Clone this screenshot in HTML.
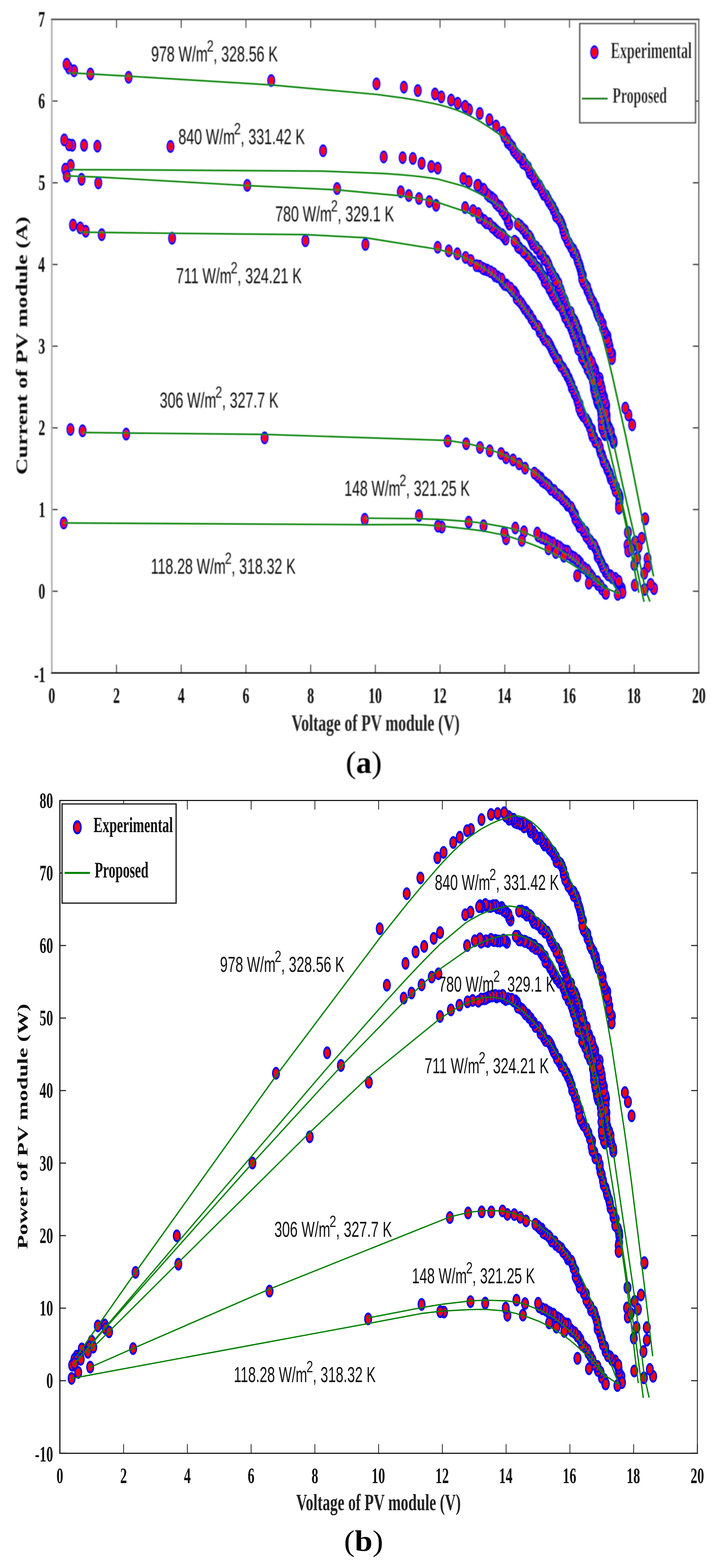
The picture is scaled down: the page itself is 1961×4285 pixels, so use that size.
<!DOCTYPE html>
<html><head><meta charset="utf-8"><title>PV figure</title><style>html,body{margin:0;padding:0;background:#fff;}svg{display:block;}</style></head><body>
<svg width="1961" height="4285" viewBox="0 0 1961 4285">
<rect width="1961" height="4285" fill="#fff"/>
<defs><filter id="bA" x="0" y="0" width="1961" height="2200" filterUnits="userSpaceOnUse"><feGaussianBlur stdDeviation="0.9"/></filter></defs>
<g filter="url(#bA)">
<line x1="141.5" y1="1839" x2="141.5" y2="1816" stroke="#222" stroke-width="2.2"/>
<line x1="141.5" y1="53" x2="141.5" y2="76" stroke="#222" stroke-width="2.2"/>
<line x1="318.2" y1="1839" x2="318.2" y2="1816" stroke="#222" stroke-width="2.2"/>
<line x1="318.2" y1="53" x2="318.2" y2="76" stroke="#222" stroke-width="2.2"/>
<line x1="495.0" y1="1839" x2="495.0" y2="1816" stroke="#222" stroke-width="2.2"/>
<line x1="495.0" y1="53" x2="495.0" y2="76" stroke="#222" stroke-width="2.2"/>
<line x1="671.7" y1="1839" x2="671.7" y2="1816" stroke="#222" stroke-width="2.2"/>
<line x1="671.7" y1="53" x2="671.7" y2="76" stroke="#222" stroke-width="2.2"/>
<line x1="848.5" y1="1839" x2="848.5" y2="1816" stroke="#222" stroke-width="2.2"/>
<line x1="848.5" y1="53" x2="848.5" y2="76" stroke="#222" stroke-width="2.2"/>
<line x1="1025.2" y1="1839" x2="1025.2" y2="1816" stroke="#222" stroke-width="2.2"/>
<line x1="1025.2" y1="53" x2="1025.2" y2="76" stroke="#222" stroke-width="2.2"/>
<line x1="1201.9" y1="1839" x2="1201.9" y2="1816" stroke="#222" stroke-width="2.2"/>
<line x1="1201.9" y1="53" x2="1201.9" y2="76" stroke="#222" stroke-width="2.2"/>
<line x1="1378.7" y1="1839" x2="1378.7" y2="1816" stroke="#222" stroke-width="2.2"/>
<line x1="1378.7" y1="53" x2="1378.7" y2="76" stroke="#222" stroke-width="2.2"/>
<line x1="1555.4" y1="1839" x2="1555.4" y2="1816" stroke="#222" stroke-width="2.2"/>
<line x1="1555.4" y1="53" x2="1555.4" y2="76" stroke="#222" stroke-width="2.2"/>
<line x1="1732.2" y1="1839" x2="1732.2" y2="1816" stroke="#222" stroke-width="2.2"/>
<line x1="1732.2" y1="53" x2="1732.2" y2="76" stroke="#222" stroke-width="2.2"/>
<line x1="1908.9" y1="1839" x2="1908.9" y2="1816" stroke="#222" stroke-width="2.2"/>
<line x1="1908.9" y1="53" x2="1908.9" y2="76" stroke="#222" stroke-width="2.2"/>
<line x1="141.5" y1="1839.0" x2="157.5" y2="1839.0" stroke="#222" stroke-width="3"/>
<line x1="1908.5" y1="1839.0" x2="1892.5" y2="1839.0" stroke="#222" stroke-width="3"/>
<line x1="141.5" y1="1615.8" x2="157.5" y2="1615.8" stroke="#222" stroke-width="3"/>
<line x1="1908.5" y1="1615.8" x2="1892.5" y2="1615.8" stroke="#222" stroke-width="3"/>
<line x1="141.5" y1="1392.5" x2="157.5" y2="1392.5" stroke="#222" stroke-width="3"/>
<line x1="1908.5" y1="1392.5" x2="1892.5" y2="1392.5" stroke="#222" stroke-width="3"/>
<line x1="141.5" y1="1169.2" x2="157.5" y2="1169.2" stroke="#222" stroke-width="3"/>
<line x1="1908.5" y1="1169.2" x2="1892.5" y2="1169.2" stroke="#222" stroke-width="3"/>
<line x1="141.5" y1="946.0" x2="157.5" y2="946.0" stroke="#222" stroke-width="3"/>
<line x1="1908.5" y1="946.0" x2="1892.5" y2="946.0" stroke="#222" stroke-width="3"/>
<line x1="141.5" y1="722.8" x2="157.5" y2="722.8" stroke="#222" stroke-width="3"/>
<line x1="1908.5" y1="722.8" x2="1892.5" y2="722.8" stroke="#222" stroke-width="3"/>
<line x1="141.5" y1="499.5" x2="157.5" y2="499.5" stroke="#222" stroke-width="3"/>
<line x1="1908.5" y1="499.5" x2="1892.5" y2="499.5" stroke="#222" stroke-width="3"/>
<line x1="141.5" y1="276.2" x2="157.5" y2="276.2" stroke="#222" stroke-width="3"/>
<line x1="1908.5" y1="276.2" x2="1892.5" y2="276.2" stroke="#222" stroke-width="3"/>
<line x1="141.5" y1="53.0" x2="157.5" y2="53.0" stroke="#222" stroke-width="3"/>
<line x1="1908.5" y1="53.0" x2="1892.5" y2="53.0" stroke="#222" stroke-width="3"/>
<line x1="141.5" y1="53" x2="141.5" y2="1839" stroke="#a8a8a8" stroke-width="4"/>
<line x1="139.5" y1="53" x2="1910.5" y2="53" stroke="#444" stroke-width="4"/>
<line x1="1908.5" y1="53" x2="1908.5" y2="1839" stroke="#555" stroke-width="3"/>
<line x1="139.5" y1="1839" x2="1910.5" y2="1839" stroke="#111" stroke-width="4"/>
<text transform="translate(132.25,1921.00) scale(0.6096,1)" font-family='"Liberation Serif", serif' font-weight="bold" font-size="60.70" fill="#111">0</text>
<text transform="translate(308.99,1921.00) scale(0.6096,1)" font-family='"Liberation Serif", serif' font-weight="bold" font-size="60.70" fill="#111">2</text>
<text transform="translate(485.82,1921.00) scale(0.6096,1)" font-family='"Liberation Serif", serif' font-weight="bold" font-size="60.70" fill="#111">4</text>
<text transform="translate(662.38,1921.00) scale(0.6096,1)" font-family='"Liberation Serif", serif' font-weight="bold" font-size="60.70" fill="#111">6</text>
<text transform="translate(839.21,1921.00) scale(0.6096,1)" font-family='"Liberation Serif", serif' font-weight="bold" font-size="60.70" fill="#111">8</text>
<text transform="translate(1005.91,1921.00) scale(0.6096,1)" font-family='"Liberation Serif", serif' font-weight="bold" font-size="60.70" fill="#111">10</text>
<text transform="translate(1182.75,1921.00) scale(0.6096,1)" font-family='"Liberation Serif", serif' font-weight="bold" font-size="60.70" fill="#111">12</text>
<text transform="translate(1359.02,1921.00) scale(0.6096,1)" font-family='"Liberation Serif", serif' font-weight="bold" font-size="60.70" fill="#111">14</text>
<text transform="translate(1536.00,1921.00) scale(0.6096,1)" font-family='"Liberation Serif", serif' font-weight="bold" font-size="60.70" fill="#111">16</text>
<text transform="translate(1712.78,1921.00) scale(0.6096,1)" font-family='"Liberation Serif", serif' font-weight="bold" font-size="60.70" fill="#111">18</text>
<text transform="translate(1890.31,1921.00) scale(0.6096,1)" font-family='"Liberation Serif", serif' font-weight="bold" font-size="60.70" fill="#111">20</text>
<text transform="translate(93.14,1864.03) scale(0.6096,1)" font-family='"Liberation Serif", serif' font-weight="bold" font-size="60.70" fill="#111">-1</text>
<text transform="translate(104.89,1635.93) scale(0.6096,1)" font-family='"Liberation Serif", serif' font-weight="bold" font-size="60.70" fill="#111">0</text>
<text transform="translate(105.44,1412.53) scale(0.6096,1)" font-family='"Liberation Serif", serif' font-weight="bold" font-size="60.70" fill="#111">1</text>
<text transform="translate(105.07,1189.36) scale(0.6096,1)" font-family='"Liberation Serif", serif' font-weight="bold" font-size="60.70" fill="#111">2</text>
<text transform="translate(104.80,966.11) scale(0.6096,1)" font-family='"Liberation Serif", serif' font-weight="bold" font-size="60.70" fill="#111">3</text>
<text transform="translate(104.15,742.71) scale(0.6096,1)" font-family='"Liberation Serif", serif' font-weight="bold" font-size="60.70" fill="#111">4</text>
<text transform="translate(104.89,519.38) scale(0.6096,1)" font-family='"Liberation Serif", serif' font-weight="bold" font-size="60.70" fill="#111">5</text>
<text transform="translate(104.61,296.36) scale(0.6096,1)" font-family='"Liberation Serif", serif' font-weight="bold" font-size="60.70" fill="#111">6</text>
<text transform="translate(104.42,72.88) scale(0.6096,1)" font-family='"Liberation Serif", serif' font-weight="bold" font-size="60.70" fill="#111">7</text>
<g transform="scale(1,1.62)" fill="#ff0000" stroke="#0000ff" stroke-width="3.6">
<circle cx="1762.3" cy="875.5" r="9.00" stroke-width="3.6"/>
<circle cx="1726.5" cy="716.8" r="9.00" stroke-width="3.6"/>
<circle cx="1716.3" cy="700.1" r="9.00" stroke-width="3.6"/>
<circle cx="1707.8" cy="688.5" r="9.00" stroke-width="3.6"/>
<circle cx="1671.9" cy="597.4" r="9.0"/>
<circle cx="1671.2" cy="604.9" r="9.0"/>
<circle cx="1668.6" cy="594.5" r="9.0"/>
<circle cx="1664.6" cy="584.3" r="9.0"/>
<circle cx="1664.2" cy="587.9" r="9.0"/>
<circle cx="1661.7" cy="577.0" r="9.0"/>
<circle cx="1659.0" cy="567.1" r="9.0"/>
<circle cx="1657.9" cy="572.2" r="9.0"/>
<circle cx="1653.2" cy="562.0" r="9.0"/>
<circle cx="1650.7" cy="558.5" r="9.0"/>
<circle cx="1646.7" cy="553.0" r="9.0"/>
<circle cx="1646.2" cy="546.8" r="9.0"/>
<circle cx="1641.7" cy="542.9" r="9.0"/>
<circle cx="1639.3" cy="537.1" r="9.0"/>
<circle cx="1634.8" cy="533.8" r="9.0"/>
<circle cx="1631.3" cy="528.7" r="9.0"/>
<circle cx="1628.9" cy="523.2" r="9.0"/>
<circle cx="1627.1" cy="518.1" r="9.0"/>
<circle cx="1623.3" cy="515.0" r="9.0"/>
<circle cx="1620.8" cy="510.3" r="9.0"/>
<circle cx="1615.4" cy="505.2" r="9.0"/>
<circle cx="1611.9" cy="500.9" r="9.0"/>
<circle cx="1608.2" cy="493.5" r="9.0"/>
<circle cx="1604.2" cy="489.4" r="9.0"/>
<circle cx="1603.7" cy="484.7" r="9.0"/>
<circle cx="1597.8" cy="479.8" r="9.0"/>
<circle cx="1593.5" cy="476.0" r="9.0"/>
<circle cx="1591.6" cy="464.9" r="9.0"/>
<circle cx="1590.0" cy="470.4" r="9.0"/>
<circle cx="1587.9" cy="460.2" r="9.0"/>
<circle cx="1585.7" cy="453.9" r="9.0"/>
<circle cx="1583.4" cy="449.0" r="9.0"/>
<circle cx="1581.3" cy="445.0" r="9.0"/>
<circle cx="1578.2" cy="440.5" r="9.0"/>
<circle cx="1575.9" cy="434.6" r="9.0"/>
<circle cx="1572.4" cy="428.8" r="9.0"/>
<circle cx="1566.1" cy="425.7" r="9.0"/>
<circle cx="1566.0" cy="421.4" r="9.0"/>
<circle cx="1559.8" cy="417.2" r="9.0"/>
<circle cx="1554.2" cy="410.7" r="9.0"/>
<circle cx="1550.8" cy="407.7" r="9.0"/>
<circle cx="1546.3" cy="401.0" r="9.0"/>
<circle cx="1542.7" cy="393.2" r="9.0"/>
<circle cx="1542.4" cy="396.8" r="9.0"/>
<circle cx="1538.5" cy="388.9" r="9.0"/>
<circle cx="1537.0" cy="383.0" r="9.0"/>
<circle cx="1533.2" cy="376.7" r="9.0"/>
<circle cx="1529.7" cy="372.1" r="9.0"/>
<circle cx="1525.0" cy="368.5" r="9.0"/>
<circle cx="1518.3" cy="364.4" r="9.0"/>
<circle cx="1516.6" cy="357.9" r="9.0"/>
<circle cx="1512.1" cy="354.0" r="9.0"/>
<circle cx="1509.3" cy="349.1" r="9.0"/>
<circle cx="1504.2" cy="344.6" r="9.0"/>
<circle cx="1498.8" cy="339.6" r="9.0"/>
<circle cx="1496.1" cy="335.8" r="9.0"/>
<circle cx="1491.8" cy="330.4" r="9.0"/>
<circle cx="1485.1" cy="328.0" r="9.0"/>
<circle cx="1481.8" cy="323.7" r="9.0"/>
<circle cx="1478.0" cy="318.7" r="9.0"/>
<circle cx="1472.9" cy="312.9" r="9.0"/>
<circle cx="1466.1" cy="310.1" r="9.0"/>
<circle cx="1461.1" cy="305.3" r="9.0"/>
<circle cx="1458.9" cy="301.7" r="9.0"/>
<circle cx="1453.2" cy="294.6" r="9.0"/>
<circle cx="1447.2" cy="291.9" r="9.0"/>
<circle cx="1445.1" cy="287.6" r="9.0"/>
<circle cx="1442.5" cy="282.6" r="9.0"/>
<circle cx="1434.8" cy="277.3" r="9.0"/>
<circle cx="1428.6" cy="275.0" r="9.0"/>
<circle cx="1426.9" cy="268.7" r="9.0"/>
<circle cx="1419.0" cy="265.9" r="9.0"/>
<circle cx="1415.5" cy="263.0" r="9.0"/>
<circle cx="1408.2" cy="258.0" r="9.0"/>
<circle cx="1402.7" cy="253.6" r="9.0"/>
<circle cx="1399.5" cy="248.1" r="9.0"/>
<circle cx="1393.3" cy="243.9" r="9.0"/>
<circle cx="1386.6" cy="240.4" r="9.0"/>
<circle cx="1385.8" cy="236.3" r="9.0"/>
<circle cx="1377.9" cy="230.7" r="9.0"/>
<circle cx="1373.4" cy="223.3" r="9.00" stroke-width="3.6"/>
<circle cx="1355.1" cy="212.7" r="9.00" stroke-width="3.6"/>
<circle cx="1336.8" cy="201.9" r="9.00" stroke-width="3.6"/>
<circle cx="1310.3" cy="191.4" r="9.00" stroke-width="3.6"/>
<circle cx="1281.0" cy="185.1" r="9.00" stroke-width="3.6"/>
<circle cx="1270.4" cy="179.3" r="9.00" stroke-width="3.6"/>
<circle cx="1250.0" cy="174.3" r="9.00" stroke-width="3.6"/>
<circle cx="1232.1" cy="168.8" r="9.00" stroke-width="3.6"/>
<circle cx="1205.2" cy="163.5" r="9.00" stroke-width="3.6"/>
<circle cx="1188.1" cy="158.5" r="9.00" stroke-width="3.6"/>
<circle cx="1141.0" cy="152.8" r="9.00" stroke-width="3.6"/>
<circle cx="1103.1" cy="147.0" r="9.00" stroke-width="3.6"/>
<circle cx="1028.2" cy="141.5" r="9.00" stroke-width="3.6"/>
<circle cx="740.7" cy="135.9" r="9.00" stroke-width="3.6"/>
<circle cx="351.2" cy="130.4" r="9.00" stroke-width="3.6"/>
<circle cx="246.9" cy="124.9" r="9.00" stroke-width="3.6"/>
<circle cx="202.3" cy="119.4" r="9.00" stroke-width="3.6"/>
<circle cx="188.3" cy="114.7" r="9.00" stroke-width="3.6"/>
<circle cx="182.0" cy="108.4" r="9.00" stroke-width="3.6"/>
<circle cx="1676.0" cy="746.4" r="9.0"/>
<circle cx="1674.9" cy="742.6" r="9.0"/>
<circle cx="1669.9" cy="736.0" r="9.0"/>
<circle cx="1668.0" cy="731.3" r="9.0"/>
<circle cx="1668.0" cy="727.5" r="9.0"/>
<circle cx="1664.0" cy="722.2" r="9.0"/>
<circle cx="1659.0" cy="716.2" r="9.0"/>
<circle cx="1656.7" cy="710.9" r="9.0"/>
<circle cx="1656.7" cy="700.4" r="9.0"/>
<circle cx="1656.7" cy="706.9" r="9.0"/>
<circle cx="1655.6" cy="684.3" r="9.0"/>
<circle cx="1654.7" cy="691.0" r="9.0"/>
<circle cx="1653.8" cy="680.5" r="9.0"/>
<circle cx="1653.8" cy="696.9" r="9.0"/>
<circle cx="1649.8" cy="670.3" r="9.0"/>
<circle cx="1649.3" cy="674.7" r="9.0"/>
<circle cx="1646.6" cy="665.8" r="9.0"/>
<circle cx="1644.5" cy="660.7" r="9.0"/>
<circle cx="1643.6" cy="655.6" r="9.0"/>
<circle cx="1640.7" cy="649.1" r="9.0"/>
<circle cx="1637.8" cy="638.4" r="9.0"/>
<circle cx="1636.8" cy="643.8" r="9.0"/>
<circle cx="1629.9" cy="635.0" r="9.0"/>
<circle cx="1627.2" cy="631.1" r="9.0"/>
<circle cx="1625.4" cy="623.9" r="9.0"/>
<circle cx="1622.2" cy="620.7" r="9.0"/>
<circle cx="1618.7" cy="616.0" r="9.0"/>
<circle cx="1616.1" cy="610.4" r="9.0"/>
<circle cx="1608.5" cy="601.6" r="9.0"/>
<circle cx="1608.4" cy="604.7" r="9.0"/>
<circle cx="1602.6" cy="596.0" r="9.0"/>
<circle cx="1602.2" cy="591.2" r="9.0"/>
<circle cx="1594.9" cy="587.1" r="9.0"/>
<circle cx="1592.7" cy="580.1" r="9.0"/>
<circle cx="1589.4" cy="572.7" r="9.0"/>
<circle cx="1588.0" cy="576.8" r="9.0"/>
<circle cx="1582.6" cy="566.5" r="9.0"/>
<circle cx="1581.5" cy="561.7" r="9.0"/>
<circle cx="1579.9" cy="556.6" r="9.0"/>
<circle cx="1576.2" cy="552.6" r="9.0"/>
<circle cx="1573.3" cy="546.7" r="9.0"/>
<circle cx="1569.2" cy="541.2" r="9.0"/>
<circle cx="1564.2" cy="537.3" r="9.0"/>
<circle cx="1558.7" cy="531.7" r="9.0"/>
<circle cx="1558.5" cy="527.0" r="9.0"/>
<circle cx="1549.9" cy="524.2" r="9.0"/>
<circle cx="1547.5" cy="517.1" r="9.0"/>
<circle cx="1545.5" cy="514.6" r="9.0"/>
<circle cx="1542.7" cy="507.8" r="9.0"/>
<circle cx="1539.7" cy="504.1" r="9.0"/>
<circle cx="1535.4" cy="499.0" r="9.0"/>
<circle cx="1533.6" cy="494.2" r="9.0"/>
<circle cx="1530.8" cy="488.6" r="9.0"/>
<circle cx="1526.0" cy="484.5" r="9.0"/>
<circle cx="1525.2" cy="478.0" r="9.0"/>
<circle cx="1518.4" cy="470.4" r="9.0"/>
<circle cx="1518.1" cy="474.4" r="9.0"/>
<circle cx="1510.9" cy="464.8" r="9.0"/>
<circle cx="1507.3" cy="459.8" r="9.0"/>
<circle cx="1503.6" cy="456.2" r="9.0"/>
<circle cx="1499.9" cy="450.7" r="9.0"/>
<circle cx="1497.4" cy="445.7" r="9.0"/>
<circle cx="1492.5" cy="439.9" r="9.0"/>
<circle cx="1486.5" cy="437.5" r="9.0"/>
<circle cx="1482.4" cy="431.7" r="9.0"/>
<circle cx="1475.5" cy="428.0" r="9.0"/>
<circle cx="1473.8" cy="423.7" r="9.0"/>
<circle cx="1465.2" cy="418.4" r="9.0"/>
<circle cx="1464.2" cy="416.6" r="9.0"/>
<circle cx="1455.5" cy="411.9" r="9.0"/>
<circle cx="1452.1" cy="407.0" r="9.0"/>
<circle cx="1448.6" cy="401.7" r="9.0"/>
<circle cx="1444.8" cy="398.1" r="9.0"/>
<circle cx="1435.7" cy="393.4" r="9.0"/>
<circle cx="1434.1" cy="389.1" r="9.0"/>
<circle cx="1427.5" cy="385.8" r="9.0"/>
<circle cx="1421.4" cy="381.2" r="9.0"/>
<circle cx="1414.7" cy="378.2" r="9.0"/>
<circle cx="1390.9" cy="378.3" r="9.0"/>
<circle cx="1386.8" cy="373.2" r="9.0"/>
<circle cx="1385.4" cy="368.2" r="9.0"/>
<circle cx="1379.1" cy="362.1" r="9.0"/>
<circle cx="1376.9" cy="359.7" r="9.0"/>
<circle cx="1371.2" cy="355.2" r="9.0"/>
<circle cx="1366.4" cy="348.8" r="9.0"/>
<circle cx="1360.6" cy="346.7" r="9.0"/>
<circle cx="1354.3" cy="342.7" r="9.0"/>
<circle cx="1350.3" cy="337.4" r="9.0"/>
<circle cx="1342.9" cy="333.4" r="9.0"/>
<circle cx="1336.0" cy="330.9" r="9.0"/>
<circle cx="1330.9" cy="327.7" r="9.0"/>
<circle cx="1322.7" cy="321.6" r="9.0"/>
<circle cx="1321.0" cy="319.5" r="9.0"/>
<circle cx="1310.8" cy="316.7" r="9.0"/>
<circle cx="1306.2" cy="312.5" r="9.00" stroke-width="3.6"/>
<circle cx="1303.8" cy="312.6" r="9.0"/>
<circle cx="1279.8" cy="306.2" r="9.00" stroke-width="3.6"/>
<circle cx="1265.5" cy="301.2" r="9.00" stroke-width="3.6"/>
<circle cx="1195.5" cy="283.6" r="9.00" stroke-width="3.6"/>
<circle cx="1178.0" cy="280.9" r="9.00" stroke-width="3.6"/>
<circle cx="1151.5" cy="275.4" r="9.00" stroke-width="3.6"/>
<circle cx="1127.6" cy="267.3" r="9.00" stroke-width="3.6"/>
<circle cx="1099.7" cy="266.0" r="9.00" stroke-width="3.6"/>
<circle cx="1048.0" cy="264.8" r="9.00" stroke-width="3.6"/>
<circle cx="882.4" cy="254.3" r="9.00" stroke-width="3.6"/>
<circle cx="465.7" cy="247.1" r="9.00" stroke-width="3.6"/>
<circle cx="266.0" cy="246.6" r="9.00" stroke-width="3.6"/>
<circle cx="229.6" cy="245.1" r="9.00" stroke-width="3.6"/>
<circle cx="197.3" cy="245.1" r="9.00" stroke-width="3.6"/>
<circle cx="193.0" cy="278.9" r="9.00" stroke-width="3.6"/>
<circle cx="188.3" cy="244.3" r="9.00" stroke-width="3.6"/>
<circle cx="178.2" cy="285.4" r="9.00" stroke-width="3.6"/>
<circle cx="175.6" cy="236.0" r="9.00" stroke-width="3.6"/>
<circle cx="1652.4" cy="733.2" r="9.0"/>
<circle cx="1649.8" cy="730.7" r="9.0"/>
<circle cx="1645.6" cy="714.4" r="9.0"/>
<circle cx="1644.9" cy="723.2" r="9.0"/>
<circle cx="1644.7" cy="702.6" r="9.0"/>
<circle cx="1643.8" cy="718.3" r="9.0"/>
<circle cx="1643.0" cy="708.0" r="9.0"/>
<circle cx="1642.4" cy="698.5" r="9.0"/>
<circle cx="1641.1" cy="691.2" r="9.0"/>
<circle cx="1639.6" cy="685.9" r="9.0"/>
<circle cx="1633.6" cy="681.1" r="9.0"/>
<circle cx="1631.3" cy="677.5" r="9.0"/>
<circle cx="1630.2" cy="674.0" r="9.0"/>
<circle cx="1626.7" cy="667.2" r="9.0"/>
<circle cx="1625.3" cy="663.6" r="9.0"/>
<circle cx="1622.3" cy="656.4" r="9.0"/>
<circle cx="1622.0" cy="650.7" r="9.0"/>
<circle cx="1621.2" cy="645.9" r="9.0"/>
<circle cx="1620.2" cy="634.7" r="9.0"/>
<circle cx="1619.4" cy="642.6" r="9.0"/>
<circle cx="1611.5" cy="630.6" r="9.0"/>
<circle cx="1609.1" cy="625.8" r="9.0"/>
<circle cx="1604.6" cy="622.7" r="9.0"/>
<circle cx="1602.1" cy="615.9" r="9.0"/>
<circle cx="1598.1" cy="613.1" r="9.0"/>
<circle cx="1592.3" cy="606.5" r="9.0"/>
<circle cx="1589.5" cy="603.7" r="9.0"/>
<circle cx="1588.9" cy="596.5" r="9.0"/>
<circle cx="1584.7" cy="592.4" r="9.0"/>
<circle cx="1579.1" cy="589.0" r="9.0"/>
<circle cx="1579.1" cy="583.2" r="9.0"/>
<circle cx="1574.6" cy="579.0" r="9.0"/>
<circle cx="1571.6" cy="571.6" r="9.0"/>
<circle cx="1571.4" cy="566.7" r="9.0"/>
<circle cx="1566.4" cy="564.4" r="9.0"/>
<circle cx="1563.2" cy="558.5" r="9.0"/>
<circle cx="1559.7" cy="552.9" r="9.0"/>
<circle cx="1557.5" cy="547.9" r="9.0"/>
<circle cx="1551.5" cy="544.2" r="9.0"/>
<circle cx="1548.1" cy="538.5" r="9.0"/>
<circle cx="1543.4" cy="535.1" r="9.0"/>
<circle cx="1539.7" cy="527.8" r="9.0"/>
<circle cx="1537.3" cy="524.3" r="9.0"/>
<circle cx="1534.2" cy="519.5" r="9.0"/>
<circle cx="1526.1" cy="514.2" r="9.0"/>
<circle cx="1521.6" cy="509.5" r="9.0"/>
<circle cx="1518.0" cy="506.7" r="9.0"/>
<circle cx="1515.6" cy="502.7" r="9.0"/>
<circle cx="1509.6" cy="497.5" r="9.0"/>
<circle cx="1506.0" cy="492.8" r="9.0"/>
<circle cx="1500.4" cy="486.9" r="9.0"/>
<circle cx="1499.9" cy="484.6" r="9.0"/>
<circle cx="1492.7" cy="478.2" r="9.0"/>
<circle cx="1487.5" cy="474.7" r="9.0"/>
<circle cx="1486.6" cy="468.3" r="9.0"/>
<circle cx="1480.3" cy="463.9" r="9.0"/>
<circle cx="1476.1" cy="459.3" r="9.0"/>
<circle cx="1473.2" cy="454.9" r="9.0"/>
<circle cx="1468.4" cy="451.6" r="9.0"/>
<circle cx="1460.2" cy="447.1" r="9.0"/>
<circle cx="1456.7" cy="441.5" r="9.0"/>
<circle cx="1451.0" cy="440.3" r="9.0"/>
<circle cx="1446.0" cy="434.9" r="9.0"/>
<circle cx="1441.1" cy="431.8" r="9.0"/>
<circle cx="1432.5" cy="426.2" r="9.0"/>
<circle cx="1429.3" cy="424.3" r="9.0"/>
<circle cx="1418.8" cy="418.2" r="9.0"/>
<circle cx="1414.4" cy="416.0" r="9.0"/>
<circle cx="1410.7" cy="409.5" r="9.0"/>
<circle cx="1405.5" cy="406.9" r="9.0"/>
<circle cx="1380.8" cy="403.5" r="9.0"/>
<circle cx="1376.0" cy="399.1" r="9.0"/>
<circle cx="1371.3" cy="395.8" r="9.0"/>
<circle cx="1361.2" cy="392.3" r="9.0"/>
<circle cx="1354.9" cy="388.9" r="9.0"/>
<circle cx="1349.0" cy="385.0" r="9.0"/>
<circle cx="1344.7" cy="383.3" r="9.0"/>
<circle cx="1336.6" cy="377.3" r="9.0"/>
<circle cx="1328.0" cy="375.8" r="9.0"/>
<circle cx="1322.7" cy="372.1" r="9.0"/>
<circle cx="1312.4" cy="367.4" r="9.0"/>
<circle cx="1309.1" cy="366.8" r="9.0"/>
<circle cx="1306.2" cy="360.2" r="9.00" stroke-width="3.6"/>
<circle cx="1292.0" cy="355.2" r="9.00" stroke-width="3.6"/>
<circle cx="1270.4" cy="350.2" r="9.00" stroke-width="3.6"/>
<circle cx="1191.0" cy="346.4" r="9.00" stroke-width="3.6"/>
<circle cx="1172.5" cy="340.1" r="9.00" stroke-width="3.6"/>
<circle cx="1144.5" cy="334.8" r="9.00" stroke-width="3.6"/>
<circle cx="1116.5" cy="329.8" r="9.00" stroke-width="3.6"/>
<circle cx="1094.7" cy="323.5" r="9.00" stroke-width="3.6"/>
<circle cx="920.6" cy="318.1" r="9.00" stroke-width="3.6"/>
<circle cx="675.3" cy="312.8" r="9.00" stroke-width="3.6"/>
<circle cx="268.5" cy="308.5" r="9.00" stroke-width="3.6"/>
<circle cx="222.7" cy="302.5" r="9.00" stroke-width="3.6"/>
<circle cx="182.4" cy="297.2" r="9.00" stroke-width="3.6"/>
<circle cx="1692.4" cy="840.3" r="9.0"/>
<circle cx="1691.9" cy="848.2" r="9.0"/>
<circle cx="1691.5" cy="836.7" r="9.0"/>
<circle cx="1690.8" cy="851.0" r="9.0"/>
<circle cx="1690.7" cy="857.4" r="9.0"/>
<circle cx="1688.4" cy="832.3" r="9.0"/>
<circle cx="1682.4" cy="821.5" r="9.0"/>
<circle cx="1681.2" cy="828.0" r="9.0"/>
<circle cx="1676.4" cy="818.7" r="9.0"/>
<circle cx="1675.2" cy="813.5" r="9.0"/>
<circle cx="1668.2" cy="807.5" r="9.0"/>
<circle cx="1666.2" cy="802.0" r="9.0"/>
<circle cx="1664.0" cy="797.8" r="9.0"/>
<circle cx="1659.2" cy="792.1" r="9.0"/>
<circle cx="1657.8" cy="789.3" r="9.0"/>
<circle cx="1654.4" cy="783.8" r="9.0"/>
<circle cx="1649.3" cy="779.5" r="9.0"/>
<circle cx="1647.3" cy="774.5" r="9.0"/>
<circle cx="1643.8" cy="767.4" r="9.0"/>
<circle cx="1640.3" cy="763.3" r="9.0"/>
<circle cx="1638.0" cy="757.3" r="9.0"/>
<circle cx="1638.0" cy="755.0" r="9.0"/>
<circle cx="1633.7" cy="748.2" r="9.0"/>
<circle cx="1626.2" cy="745.5" r="9.0"/>
<circle cx="1623.2" cy="738.5" r="9.0"/>
<circle cx="1618.1" cy="736.0" r="9.0"/>
<circle cx="1616.8" cy="725.2" r="9.0"/>
<circle cx="1615.7" cy="730.4" r="9.0"/>
<circle cx="1611.0" cy="720.7" r="9.0"/>
<circle cx="1606.8" cy="713.8" r="9.0"/>
<circle cx="1604.2" cy="711.7" r="9.0"/>
<circle cx="1600.8" cy="707.2" r="9.0"/>
<circle cx="1592.8" cy="701.6" r="9.0"/>
<circle cx="1588.6" cy="697.4" r="9.0"/>
<circle cx="1585.4" cy="694.1" r="9.0"/>
<circle cx="1583.0" cy="682.3" r="9.0"/>
<circle cx="1581.9" cy="688.3" r="9.0"/>
<circle cx="1578.8" cy="679.3" r="9.0"/>
<circle cx="1576.5" cy="674.2" r="9.0"/>
<circle cx="1573.1" cy="667.5" r="9.0"/>
<circle cx="1569.3" cy="663.8" r="9.0"/>
<circle cx="1567.5" cy="659.1" r="9.0"/>
<circle cx="1561.7" cy="654.0" r="9.0"/>
<circle cx="1560.5" cy="648.5" r="9.0"/>
<circle cx="1556.8" cy="643.7" r="9.0"/>
<circle cx="1553.7" cy="638.6" r="9.0"/>
<circle cx="1549.4" cy="634.3" r="9.0"/>
<circle cx="1547.1" cy="630.2" r="9.0"/>
<circle cx="1542.9" cy="627.1" r="9.0"/>
<circle cx="1538.5" cy="621.5" r="9.0"/>
<circle cx="1532.2" cy="617.5" r="9.0"/>
<circle cx="1527.0" cy="611.3" r="9.0"/>
<circle cx="1525.5" cy="607.6" r="9.0"/>
<circle cx="1519.5" cy="604.8" r="9.0"/>
<circle cx="1514.1" cy="597.2" r="9.0"/>
<circle cx="1510.5" cy="593.8" r="9.0"/>
<circle cx="1506.8" cy="588.8" r="9.0"/>
<circle cx="1503.4" cy="583.8" r="9.0"/>
<circle cx="1499.6" cy="579.8" r="9.0"/>
<circle cx="1495.4" cy="576.3" r="9.0"/>
<circle cx="1488.0" cy="573.1" r="9.0"/>
<circle cx="1483.4" cy="568.0" r="9.0"/>
<circle cx="1480.6" cy="563.4" r="9.0"/>
<circle cx="1474.0" cy="559.5" r="9.0"/>
<circle cx="1472.7" cy="554.2" r="9.0"/>
<circle cx="1468.8" cy="550.6" r="9.0"/>
<circle cx="1459.9" cy="546.3" r="9.0"/>
<circle cx="1455.8" cy="540.3" r="9.0"/>
<circle cx="1451.3" cy="537.4" r="9.0"/>
<circle cx="1447.3" cy="531.8" r="9.0"/>
<circle cx="1441.8" cy="528.2" r="9.0"/>
<circle cx="1438.9" cy="524.2" r="9.0"/>
<circle cx="1432.7" cy="520.6" r="9.0"/>
<circle cx="1429.0" cy="516.5" r="9.0"/>
<circle cx="1423.8" cy="511.5" r="9.0"/>
<circle cx="1417.6" cy="507.2" r="9.0"/>
<circle cx="1411.0" cy="503.3" r="9.0"/>
<circle cx="1409.1" cy="496.6" r="9.0"/>
<circle cx="1404.5" cy="492.3" r="9.0"/>
<circle cx="1400.0" cy="491.0" r="9.0"/>
<circle cx="1394.2" cy="486.1" r="9.0"/>
<circle cx="1383.7" cy="480.9" r="9.0"/>
<circle cx="1377.3" cy="479.5" r="9.0"/>
<circle cx="1371.8" cy="475.0" r="9.0"/>
<circle cx="1369.6" cy="470.7" r="9.0"/>
<circle cx="1359.3" cy="467.0" r="9.0"/>
<circle cx="1352.4" cy="465.3" r="9.0"/>
<circle cx="1348.6" cy="461.5" r="9.0"/>
<circle cx="1339.9" cy="458.4" r="9.0"/>
<circle cx="1330.7" cy="455.5" r="9.0"/>
<circle cx="1323.2" cy="454.1" r="9.0"/>
<circle cx="1318.8" cy="452.8" r="9.0"/>
<circle cx="1309.7" cy="448.9" r="9.0"/>
<circle cx="1301.6" cy="448.2" r="9.0"/>
<circle cx="1285.9" cy="439.5" r="9.00" stroke-width="3.6"/>
<circle cx="1271.6" cy="434.4" r="9.00" stroke-width="3.6"/>
<circle cx="1249.2" cy="428.1" r="9.00" stroke-width="3.6"/>
<circle cx="1225.6" cy="423.1" r="9.00" stroke-width="3.6"/>
<circle cx="1195.4" cy="417.1" r="9.00" stroke-width="3.6"/>
<circle cx="998.0" cy="412.4" r="9.00" stroke-width="3.6"/>
<circle cx="834.1" cy="406.1" r="9.00" stroke-width="3.6"/>
<circle cx="470.0" cy="401.9" r="9.00" stroke-width="3.6"/>
<circle cx="277.8" cy="395.9" r="9.00" stroke-width="3.6"/>
<circle cx="234.1" cy="390.1" r="9.00" stroke-width="3.6"/>
<circle cx="219.3" cy="384.4" r="9.00" stroke-width="3.6"/>
<circle cx="199.4" cy="379.7" r="9.00" stroke-width="3.6"/>
<circle cx="1698.2" cy="992.7" r="9.0"/>
<circle cx="1692.1" cy="988.9" r="9.0"/>
<circle cx="1690.2" cy="983.9" r="9.0"/>
<circle cx="1685.1" cy="979.1" r="9.0"/>
<circle cx="1680.5" cy="975.7" r="9.0"/>
<circle cx="1672.5" cy="974.7" r="9.0"/>
<circle cx="1667.2" cy="971.0" r="9.0"/>
<circle cx="1660.8" cy="969.7" r="9.0"/>
<circle cx="1654.2" cy="964.7" r="9.0"/>
<circle cx="1653.1" cy="960.0" r="9.0"/>
<circle cx="1647.0" cy="957.0" r="9.0"/>
<circle cx="1643.5" cy="950.9" r="9.0"/>
<circle cx="1640.0" cy="946.3" r="9.0"/>
<circle cx="1635.7" cy="941.3" r="9.0"/>
<circle cx="1632.3" cy="939.0" r="9.0"/>
<circle cx="1632.3" cy="934.2" r="9.0"/>
<circle cx="1629.3" cy="928.6" r="9.0"/>
<circle cx="1624.9" cy="922.9" r="9.0"/>
<circle cx="1622.1" cy="919.2" r="9.0"/>
<circle cx="1614.1" cy="917.0" r="9.0"/>
<circle cx="1612.4" cy="912.7" r="9.0"/>
<circle cx="1606.2" cy="908.3" r="9.0"/>
<circle cx="1601.1" cy="904.7" r="9.0"/>
<circle cx="1599.8" cy="897.8" r="9.0"/>
<circle cx="1594.1" cy="896.2" r="9.0"/>
<circle cx="1589.6" cy="890.8" r="9.0"/>
<circle cx="1582.7" cy="888.5" r="9.0"/>
<circle cx="1578.8" cy="881.8" r="9.0"/>
<circle cx="1575.1" cy="878.6" r="9.0"/>
<circle cx="1571.2" cy="875.1" r="9.0"/>
<circle cx="1570.7" cy="868.5" r="9.0"/>
<circle cx="1565.9" cy="864.9" r="9.0"/>
<circle cx="1562.5" cy="859.6" r="9.0"/>
<circle cx="1559.4" cy="855.9" r="9.0"/>
<circle cx="1550.0" cy="852.3" r="9.0"/>
<circle cx="1549.1" cy="849.5" r="9.0"/>
<circle cx="1543.7" cy="846.2" r="9.0"/>
<circle cx="1536.8" cy="842.3" r="9.0"/>
<circle cx="1531.9" cy="837.8" r="9.0"/>
<circle cx="1524.5" cy="834.7" r="9.0"/>
<circle cx="1516.6" cy="831.1" r="9.0"/>
<circle cx="1513.3" cy="827.4" r="9.0"/>
<circle cx="1504.9" cy="825.4" r="9.0"/>
<circle cx="1500.0" cy="820.5" r="9.0"/>
<circle cx="1496.2" cy="818.1" r="9.0"/>
<circle cx="1488.0" cy="814.3" r="9.0"/>
<circle cx="1481.4" cy="811.7" r="9.0"/>
<circle cx="1477.4" cy="806.6" r="9.0"/>
<circle cx="1472.0" cy="805.0" r="9.0"/>
<circle cx="1467.2" cy="801.9" r="9.0"/>
<circle cx="1459.8" cy="798.1" r="9.0"/>
<circle cx="1434.0" cy="789.8" r="9.00" stroke-width="3.6"/>
<circle cx="1417.7" cy="782.5" r="9.00" stroke-width="3.6"/>
<circle cx="1401.4" cy="776.0" r="9.00" stroke-width="3.6"/>
<circle cx="1382.1" cy="772.3" r="9.00" stroke-width="3.6"/>
<circle cx="1368.7" cy="765.1" r="9.00" stroke-width="3.6"/>
<circle cx="1337.6" cy="760.5" r="9.00" stroke-width="3.6"/>
<circle cx="1310.9" cy="754.9" r="9.00" stroke-width="3.6"/>
<circle cx="1273.2" cy="748.6" r="9.00" stroke-width="3.6"/>
<circle cx="1222.6" cy="744.0" r="9.00" stroke-width="3.6"/>
<circle cx="722.7" cy="738.6" r="9.00" stroke-width="3.6"/>
<circle cx="344.6" cy="732.3" r="9.00" stroke-width="3.6"/>
<circle cx="225.5" cy="726.7" r="9.00" stroke-width="3.6"/>
<circle cx="192.4" cy="724.5" r="9.00" stroke-width="3.6"/>
<circle cx="1699.9" cy="999.5" r="9.00" stroke-width="3.6"/>
<circle cx="1689.7" cy="980.6" r="9.00" stroke-width="3.6"/>
<circle cx="1687.2" cy="1002.7" r="9.00" stroke-width="3.6"/>
<circle cx="1653.4" cy="1000.8" r="9.0"/>
<circle cx="1650.7" cy="996.2" r="9.0"/>
<circle cx="1644.2" cy="993.8" r="9.0"/>
<circle cx="1640.3" cy="987.9" r="9.0"/>
<circle cx="1633.2" cy="986.0" r="9.0"/>
<circle cx="1631.8" cy="981.4" r="9.0"/>
<circle cx="1621.6" cy="978.8" r="9.0"/>
<circle cx="1617.9" cy="973.8" r="9.0"/>
<circle cx="1612.5" cy="969.5" r="9.0"/>
<circle cx="1606.6" cy="965.5" r="9.0"/>
<circle cx="1604.7" cy="962.1" r="9.0"/>
<circle cx="1595.9" cy="958.2" r="9.0"/>
<circle cx="1589.9" cy="956.0" r="9.0"/>
<circle cx="1584.8" cy="949.8" r="9.0"/>
<circle cx="1579.0" cy="945.8" r="9.0"/>
<circle cx="1576.5" cy="971.2" r="9.00" stroke-width="3.6"/>
<circle cx="1576.1" cy="945.2" r="9.0"/>
<circle cx="1568.9" cy="940.9" r="9.0"/>
<circle cx="1561.8" cy="938.7" r="9.0"/>
<circle cx="1554.9" cy="935.3" r="9.0"/>
<circle cx="1549.9" cy="930.0" r="9.0"/>
<circle cx="1542.8" cy="929.1" r="9.0"/>
<circle cx="1534.5" cy="926.5" r="9.0"/>
<circle cx="1528.6" cy="923.0" r="9.0"/>
<circle cx="1521.2" cy="920.8" r="9.0"/>
<circle cx="1513.3" cy="919.4" r="9.0"/>
<circle cx="1509.8" cy="915.9" r="9.0"/>
<circle cx="1500.6" cy="913.6" r="9.0"/>
<circle cx="1494.8" cy="911.8" r="9.0"/>
<circle cx="1488.1" cy="909.1" r="9.0"/>
<circle cx="1479.4" cy="907.2" r="9.0"/>
<circle cx="1470.2" cy="904.1" r="9.0"/>
<circle cx="1467.5" cy="899.3" r="9.0"/>
<circle cx="1431.1" cy="897.0" r="9.00" stroke-width="3.6"/>
<circle cx="1425.1" cy="911.7" r="9.00" stroke-width="3.6"/>
<circle cx="1407.3" cy="890.6" r="9.00" stroke-width="3.6"/>
<circle cx="1382.1" cy="908.9" r="9.00" stroke-width="3.6"/>
<circle cx="1377.6" cy="898.8" r="9.00" stroke-width="3.6"/>
<circle cx="1320.7" cy="886.9" r="9.00" stroke-width="3.6"/>
<circle cx="1280.0" cy="880.9" r="9.00" stroke-width="3.6"/>
<circle cx="1206.4" cy="889.1" r="9.00" stroke-width="3.6"/>
<circle cx="1196.2" cy="887.6" r="9.00" stroke-width="3.6"/>
<circle cx="1144.3" cy="869.7" r="9.00" stroke-width="3.6"/>
<circle cx="996.2" cy="876.0" r="9.00" stroke-width="3.6"/>
<circle cx="1655.0" cy="1001.0" r="9.00" stroke-width="3.6"/>
<circle cx="1608.3" cy="983.8" r="9.00" stroke-width="3.6"/>
<circle cx="1576.5" cy="971.2" r="9.00" stroke-width="3.6"/>
<circle cx="1540.0" cy="938.3" r="9.00" stroke-width="3.6"/>
<circle cx="1518.0" cy="932.1" r="9.00" stroke-width="3.6"/>
<circle cx="1498.0" cy="925.9" r="9.00" stroke-width="3.6"/>
<circle cx="174.1" cy="882.2" r="9.00" stroke-width="3.6"/>
<circle cx="1761.7" cy="875.1" r="9.00" stroke-width="3.6"/>
<circle cx="1715.0" cy="898.0" r="9.00" stroke-width="3.6"/>
<circle cx="1714.0" cy="919.6" r="9.00" stroke-width="3.6"/>
<circle cx="1735.0" cy="913.9" r="9.00" stroke-width="3.6"/>
<circle cx="1752.4" cy="908.0" r="9.00" stroke-width="3.6"/>
<circle cx="1716.0" cy="929.6" r="9.00" stroke-width="3.6"/>
<circle cx="1744.0" cy="922.5" r="9.00" stroke-width="3.6"/>
<circle cx="1768.7" cy="942.6" r="9.00" stroke-width="3.6"/>
<circle cx="1768.7" cy="955.6" r="9.00" stroke-width="3.6"/>
<circle cx="1732.6" cy="952.5" r="9.00" stroke-width="3.6"/>
<circle cx="1759.4" cy="967.1" r="9.00" stroke-width="3.6"/>
<circle cx="1733.8" cy="987.2" r="9.00" stroke-width="3.6"/>
<circle cx="1760.6" cy="994.4" r="9.00" stroke-width="3.6"/>
<circle cx="1786.2" cy="993.0" r="9.00" stroke-width="3.6"/>
<circle cx="1777.0" cy="985.8" r="9.00" stroke-width="3.6"/>
<circle cx="1724.0" cy="925.9" r="9.00" stroke-width="3.6"/>
<circle cx="1740.0" cy="941.4" r="9.00" stroke-width="3.6"/>
</g>
<polyline points="188.3,198.8 202.3,199.6 246.9,202.1 351.2,208.2 740.7,232.1 1028.2,258.0 1103.1,268.1 1141.0,274.5 1188.1,283.7 1205.2,287.8 1232.1,295.4 1250.0,301.7 1270.4,310.3 1281.0,315.4 1310.3,331.5 1336.8,348.3 1355.1,360.9 1373.4,374.3 1377.9,377.7 1385.8,383.8 1386.6,384.4 1393.3,389.6 1399.5,394.6 1402.7,397.5 1408.2,402.8 1415.5,410.4 1419.0,414.3 1426.9,423.6 1428.6,425.7 1434.8,433.7 1442.5,444.1 1445.1,447.7 1447.2,450.6 1453.2,459.3 1458.9,467.8 1461.1,471.2 1466.1,479.0 1472.9,489.7 1478.0,497.9 1481.8,504.1 1485.1,509.5 1491.8,521.2 1496.1,529.1 1498.8,534.0 1504.2,544.2 1509.3,554.1 1512.1,559.6 1516.6,568.6 1518.3,572.0 1525.0,585.6 1529.7,595.2 1533.2,602.4 1537.0,610.6 1538.5,613.8 1542.4,622.1 1542.7,622.9 1546.3,630.8 1550.8,640.7 1554.2,648.4 1559.8,661.5 1566.0,676.2 1566.1,676.4 1572.4,691.9 1575.9,701.1 1578.2,707.0 1581.3,715.2 1583.4,720.9 1585.7,727.0 1587.9,732.9 1590.0,738.9 1591.6,743.2 1593.5,748.7 1597.8,760.7 1603.7,778.2 1604.2,779.8 1608.2,792.2 1611.9,803.7 1615.4,815.0 1620.8,832.7 1623.3,840.9 1627.1,854.0 1628.9,860.1 1631.3,868.3 1634.8,880.6 1639.3,896.9 1641.7,906.1 1646.2,922.9 1646.7,924.6 1650.7,939.9 1653.2,949.4 1657.9,968.1 1659.0,972.5 1661.7,983.3 1664.2,993.5 1664.6,995.2 1668.6,1011.4 1671.2,1022.4 1671.9,1025.2 1707.8,1186.5 1716.3,1227.2 1726.5,1277.2 1762.3,1458.5 1785.0,1575.2" fill="none" stroke="#008000" stroke-width="4.2" stroke-linejoin="round"/>
<polyline points="188.3,463.7 193.0,463.7 197.3,463.7 229.6,463.8 266.0,463.9 465.7,464.8 882.4,467.7 1048.0,474.1 1099.7,477.8 1127.6,480.5 1151.5,483.2 1178.0,486.7 1195.5,489.3 1265.5,508.5 1279.8,514.5 1303.8,526.2 1306.2,527.5 1310.8,529.9 1321.0,535.7 1322.7,536.7 1330.9,541.5 1336.0,544.6 1342.9,549.0 1350.3,553.7 1354.3,556.4 1360.6,560.6 1366.4,564.6 1371.2,567.9 1376.9,571.9 1379.1,573.5 1385.4,578.1 1386.8,579.2 1390.9,582.5 1414.7,604.7 1421.4,611.7 1427.5,618.3 1434.1,625.7 1435.7,627.5 1444.8,638.0 1448.6,642.8 1452.1,647.2 1455.5,651.6 1464.2,663.4 1465.2,664.8 1473.8,677.1 1475.5,679.7 1482.4,690.0 1486.5,696.3 1492.5,706.0 1497.4,714.3 1499.9,718.7 1503.6,725.2 1507.3,731.9 1510.9,738.6 1518.1,752.4 1518.4,752.9 1525.2,766.3 1526.0,768.0 1530.8,778.1 1533.6,784.0 1535.4,787.9 1539.7,797.5 1542.7,804.1 1545.5,810.6 1547.5,815.2 1549.9,820.7 1558.5,841.6 1558.7,842.2 1564.2,856.1 1569.2,869.0 1573.3,880.0 1576.2,888.0 1579.9,898.1 1581.5,902.8 1582.6,905.8 1588.0,921.5 1589.4,925.5 1592.7,935.4 1594.9,942.1 1602.2,964.9 1602.6,966.3 1608.4,985.3 1608.5,985.8 1616.1,1011.9 1618.7,1021.2 1622.2,1034.0 1625.4,1045.7 1627.2,1052.4 1629.9,1062.0 1636.8,1084.5 1637.8,1087.7 1640.7,1096.5 1643.6,1105.6 1644.5,1108.5 1646.6,1115.0 1649.3,1123.5 1649.8,1125.1 1653.8,1138.0 1653.8,1138.1 1654.7,1140.9 1655.6,1143.8 1656.7,1147.1 1656.7,1147.2 1656.7,1147.3 1659.0,1154.4 1664.0,1170.8 1668.0,1183.9 1668.0,1184.0 1669.9,1190.5 1674.9,1208.6 1676.0,1212.7 1677.0,1216.6 1700.0,1322.5 1715.0,1387.2 1735.0,1474.6 1745.0,1524.7 1762.0,1608.7 1775.0,1643.9" fill="none" stroke="#008000" stroke-width="4.2" stroke-linejoin="round"/>
<polyline points="180.3,480.6 182.4,480.7 222.7,482.1 268.5,483.8 675.3,507.1 920.6,518.9 1094.7,535.1 1116.5,538.2 1144.5,542.6 1172.5,547.8 1191.0,551.6 1270.4,578.0 1292.0,587.5 1306.2,594.2 1309.1,595.7 1312.4,597.3 1322.7,602.6 1328.0,605.4 1336.6,610.2 1344.7,614.8 1349.0,617.3 1354.9,620.9 1361.2,624.7 1371.3,631.1 1376.0,634.2 1380.8,637.4 1405.5,656.3 1410.7,661.0 1414.4,664.5 1418.8,668.8 1429.3,679.3 1432.5,682.6 1441.1,691.6 1446.0,697.0 1451.0,702.6 1456.7,709.3 1460.2,713.5 1468.4,723.7 1473.2,730.1 1476.1,734.1 1480.3,739.9 1486.6,749.0 1487.5,750.3 1492.7,758.3 1499.9,770.3 1500.4,771.2 1506.0,781.2 1509.6,787.8 1515.6,799.1 1518.0,803.6 1521.6,810.7 1526.1,820.1 1534.2,837.9 1537.3,844.7 1539.7,850.1 1543.4,858.5 1548.1,869.2 1551.5,877.3 1557.5,891.3 1559.7,896.5 1563.2,904.9 1566.4,912.6 1571.4,925.0 1571.6,925.6 1574.6,933.0 1579.1,944.4 1579.1,944.4 1584.7,958.8 1588.9,969.7 1589.5,971.1 1592.3,978.4 1598.1,993.8 1602.1,1004.5 1604.6,1011.4 1609.1,1024.0 1611.5,1030.9 1619.4,1053.9 1620.2,1056.4 1621.2,1059.5 1622.0,1062.1 1622.3,1063.1 1625.3,1073.3 1626.7,1078.5 1630.2,1091.1 1631.3,1095.4 1633.6,1103.9 1639.6,1127.5 1641.1,1133.2 1642.4,1138.5 1643.0,1140.8 1643.8,1144.2 1644.7,1147.9 1644.9,1148.7 1645.6,1151.1 1649.8,1167.9 1652.4,1178.5 1690.0,1336.1 1710.0,1422.4 1725.0,1488.6 1740.0,1556.4 1759.0,1644.7" fill="none" stroke="#008000" stroke-width="4.2" stroke-linejoin="round"/>
<polyline points="219.3,634.4 234.1,634.6 277.8,635.2 470.0,637.5 834.1,641.2 998.0,649.6 1195.4,681.3 1225.6,689.4 1249.2,697.0 1271.6,705.8 1285.9,712.4 1301.6,720.5 1309.7,725.0 1318.8,730.4 1323.2,733.2 1330.7,738.4 1339.9,745.3 1348.6,752.2 1352.4,755.3 1359.3,761.3 1369.6,770.7 1371.8,772.8 1377.3,778.3 1383.7,784.9 1394.2,796.2 1400.0,802.7 1404.5,807.8 1409.1,813.2 1411.0,815.5 1417.6,823.5 1423.8,831.4 1429.0,838.0 1432.7,842.8 1438.9,851.0 1441.8,854.9 1447.3,862.2 1451.3,867.8 1455.8,874.0 1459.9,879.8 1468.8,892.7 1472.7,898.4 1474.0,900.3 1480.6,910.1 1483.4,914.2 1488.0,921.3 1495.4,932.5 1499.6,939.0 1503.4,944.9 1506.8,950.3 1510.5,956.2 1514.1,961.9 1519.5,970.7 1525.5,980.6 1527.0,983.0 1532.2,991.8 1538.5,1002.5 1542.9,1010.0 1547.1,1017.4 1549.4,1021.4 1553.7,1029.2 1556.8,1034.8 1560.5,1041.7 1561.7,1044.1 1567.5,1055.2 1569.3,1058.7 1573.1,1066.1 1576.5,1073.0 1578.8,1077.7 1581.9,1084.2 1583.0,1086.6 1585.4,1091.9 1588.6,1099.0 1592.8,1109.0 1600.8,1129.7 1604.2,1139.0 1606.8,1146.1 1611.0,1157.2 1615.7,1170.3 1616.8,1173.2 1618.1,1176.9 1623.2,1190.9 1626.2,1199.0 1633.7,1219.3 1638.0,1230.0 1638.0,1230.1 1640.3,1235.4 1643.8,1243.1 1647.3,1250.5 1649.3,1254.6 1654.4,1264.9 1657.8,1271.8 1659.2,1274.6 1664.0,1284.4 1666.2,1289.1 1668.2,1293.6 1675.2,1310.2 1676.4,1313.3 1681.2,1326.3 1682.4,1329.8 1688.4,1347.9 1690.7,1355.4 1690.8,1355.8 1691.5,1358.3 1691.9,1359.5 1692.4,1361.2 1697.0,1377.7 1709.0,1430.8 1723.0,1504.0 1739.0,1590.1 1745.0,1619.9" fill="none" stroke="#008000" stroke-width="4.2" stroke-linejoin="round"/>
<polyline points="225.5,1181.8 344.6,1183.3 722.7,1187.1 1222.6,1203.7 1273.2,1211.5 1310.9,1220.4 1337.6,1228.7 1368.7,1239.8 1382.1,1245.6 1401.4,1255.1 1417.7,1264.0 1434.0,1273.6 1459.8,1291.0 1467.2,1296.5 1472.0,1300.1 1477.4,1304.3 1481.4,1307.5 1488.0,1312.8 1496.2,1319.8 1500.0,1323.2 1504.9,1327.6 1513.3,1335.4 1516.6,1338.6 1524.5,1346.4 1531.9,1354.1 1536.8,1359.3 1543.7,1366.7 1549.1,1372.7 1550.0,1373.8 1559.4,1384.8 1562.5,1388.7 1565.9,1392.8 1570.7,1399.1 1571.2,1399.7 1575.1,1405.0 1578.8,1410.1 1582.7,1415.6 1589.6,1425.9 1594.1,1433.2 1599.8,1442.7 1601.1,1445.0 1606.2,1454.0 1612.4,1465.5 1614.1,1468.8 1622.1,1484.5 1624.9,1490.1 1629.3,1499.6 1632.3,1506.3 1632.3,1506.3 1635.7,1514.2 1640.0,1524.1 1643.5,1532.0 1647.0,1539.5 1653.1,1552.9 1654.2,1555.2 1660.8,1569.2 1667.2,1581.9 1672.5,1591.5 1680.5,1605.1 1685.1,1612.4 1690.2,1619.9 1692.1,1622.7" fill="none" stroke="#008000" stroke-width="4.2" stroke-linejoin="round"/>
<polyline points="996.2,1416.0 1144.3,1417.5 1196.2,1419.4 1206.4,1419.9 1280.0,1425.2 1320.7,1430.0 1377.6,1440.1 1382.1,1441.0 1407.3,1447.0 1425.1,1452.7 1431.1,1454.8 1467.5,1469.7 1470.2,1470.9 1479.4,1475.1 1488.1,1479.2 1494.8,1482.5 1500.6,1485.6 1509.8,1490.7 1513.3,1492.8 1521.2,1497.5 1528.6,1502.2 1534.5,1506.0 1542.8,1511.5 1549.9,1516.4 1554.9,1519.9 1561.8,1524.8 1568.9,1530.1 1576.1,1535.8 1576.5,1536.1 1579.0,1538.2 1584.8,1543.1 1589.9,1547.5 1595.9,1552.8 1604.7,1560.6 1606.6,1562.3 1612.5,1567.6 1617.9,1572.3 1621.6,1575.5 1631.8,1585.0 1633.2,1586.4 1640.3,1593.7 1644.2,1597.7 1650.7,1604.1 1653.4,1606.5 1687.2,1621.0 1689.7,1621.4" fill="none" stroke="#008000" stroke-width="4.2" stroke-linejoin="round"/>
<polyline points="174.1,1429.1 996.2,1433.8 1144.3,1433.4 1196.2,1436.8 1206.4,1437.7 1280.0,1445.8 1320.7,1451.2 1377.6,1462.5 1382.1,1463.8 1407.3,1471.6 1425.1,1477.4 1431.1,1479.4 1467.5,1493.3 1470.2,1494.5 1479.4,1498.5 1488.1,1502.4 1494.8,1505.6 1498.0,1507.1 1500.6,1508.3 1509.8,1512.8 1513.3,1514.6 1518.0,1516.9 1521.2,1518.6 1528.6,1522.5 1534.5,1525.8 1540.0,1528.9 1542.8,1530.5 1549.9,1534.7 1554.9,1537.7 1561.8,1541.9 1568.9,1546.4 1576.1,1551.1 1576.5,1551.3 1579.0,1553.0 1584.8,1556.8 1589.9,1560.2 1595.9,1564.3 1604.7,1570.6 1606.6,1572.0 1608.3,1573.3 1612.5,1576.4 1617.9,1580.5 1621.6,1583.4 1631.8,1591.5 1633.2,1592.6 1640.3,1598.4 1644.2,1601.6 1650.7,1607.1 1653.4,1609.4 1655.0,1610.7" fill="none" stroke="#008000" stroke-width="4.2" stroke-linejoin="round"/>
<text transform="translate(412.67,168.30) scale(0.6480,1)" font-family='"Liberation Sans", sans-serif' font-weight="normal" font-size="59.60" fill="#111">978 W/m</text>
<text transform="translate(564.97,141.30) scale(0.7430,1)" font-family='"Liberation Sans", sans-serif' font-weight="normal" font-size="44.70" fill="#111">2</text>
<text transform="translate(582.78,168.30) scale(0.6480,1)" font-family='"Liberation Sans", sans-serif' font-weight="normal" font-size="59.60" fill="#111">, 328.56 K</text>
<text transform="translate(487.36,394.10) scale(0.6465,1)" font-family='"Liberation Sans", sans-serif' font-weight="normal" font-size="59.60" fill="#111">840 W/m</text>
<text transform="translate(639.32,367.10) scale(0.7413,1)" font-family='"Liberation Sans", sans-serif' font-weight="normal" font-size="44.70" fill="#111">2</text>
<text transform="translate(657.09,394.10) scale(0.6465,1)" font-family='"Liberation Sans", sans-serif' font-weight="normal" font-size="59.60" fill="#111">, 331.42 K</text>
<text transform="translate(751.77,604.50) scale(0.6476,1)" font-family='"Liberation Sans", sans-serif' font-weight="normal" font-size="59.60" fill="#111">780 W/m</text>
<text transform="translate(903.99,577.50) scale(0.7426,1)" font-family='"Liberation Sans", sans-serif' font-weight="normal" font-size="44.70" fill="#111">2</text>
<text transform="translate(921.79,604.50) scale(0.6476,1)" font-family='"Liberation Sans", sans-serif' font-weight="normal" font-size="59.60" fill="#111">, 329.1 K</text>
<text transform="translate(480.77,773.50) scale(0.6483,1)" font-family='"Liberation Sans", sans-serif' font-weight="normal" font-size="59.60" fill="#111">711 W/m</text>
<text transform="translate(630.36,746.50) scale(0.7434,1)" font-family='"Liberation Sans", sans-serif' font-weight="normal" font-size="44.70" fill="#111">2</text>
<text transform="translate(648.18,773.50) scale(0.6483,1)" font-family='"Liberation Sans", sans-serif' font-weight="normal" font-size="59.60" fill="#111">, 324.21 K</text>
<text transform="translate(436.25,1114.00) scale(0.6470,1)" font-family='"Liberation Sans", sans-serif' font-weight="normal" font-size="59.60" fill="#111">306 W/m</text>
<text transform="translate(588.35,1087.00) scale(0.7420,1)" font-family='"Liberation Sans", sans-serif' font-weight="normal" font-size="44.70" fill="#111">2</text>
<text transform="translate(606.13,1114.00) scale(0.6470,1)" font-family='"Liberation Sans", sans-serif' font-weight="normal" font-size="59.60" fill="#111">, 327.7 K</text>
<text transform="translate(940.43,1355.40) scale(0.6415,1)" font-family='"Liberation Sans", sans-serif' font-weight="normal" font-size="59.60" fill="#111">148 W/m</text>
<text transform="translate(1091.23,1328.40) scale(0.7355,1)" font-family='"Liberation Sans", sans-serif' font-weight="normal" font-size="44.70" fill="#111">2</text>
<text transform="translate(1108.84,1355.40) scale(0.6415,1)" font-family='"Liberation Sans", sans-serif' font-weight="normal" font-size="59.60" fill="#111">, 321.25 K</text>
<text transform="translate(411.92,1568.00) scale(0.6453,1)" font-family='"Liberation Sans", sans-serif' font-weight="normal" font-size="59.60" fill="#111">118.28 W/m</text>
<text transform="translate(614.27,1541.00) scale(0.7399,1)" font-family='"Liberation Sans", sans-serif' font-weight="normal" font-size="44.70" fill="#111">2</text>
<text transform="translate(632.00,1568.00) scale(0.6453,1)" font-family='"Liberation Sans", sans-serif' font-weight="normal" font-size="59.60" fill="#111">, 318.32 K</text>
<rect x="1583.5" y="64.5" width="316" height="271" fill="#fff" stroke="#555" stroke-width="4"/>
<g transform="scale(1,1.62)"><circle cx="1623.4" cy="88.1" r="10" fill="#ff0000" stroke="#0000ff" stroke-width="4"/></g>
<line x1="1589" y1="269.4" x2="1660" y2="269.4" stroke="#008000" stroke-width="5.5"/>
<text transform="translate(1667.93,159.00) scale(0.6029,1)" font-family='"Liberation Serif", serif' font-weight="bold" font-size="63.05" fill="#111">Experimental</text>
<text transform="translate(1673.05,281.00) scale(0.6027,1)" font-family='"Liberation Serif", serif' font-weight="bold" font-size="61.83" fill="#111">Proposed</text>
<text transform="translate(796.18,1997.00) scale(0.6723,1)" font-family='"Liberation Serif", serif' font-weight="bold" font-size="62.75" fill="#222">Voltage of PV module (V)</text>
<text transform="translate(74,1297.5) rotate(-90) scale(1.4270,1)" font-family='"Liberation Serif", serif' font-weight="bold" font-size="44.23" fill="#111">Current of PV module (A)</text>
<text transform="translate(944.20,2111.60) scale(1.0016,1)" font-family='"Liberation Serif", serif' font-weight="bold" font-size="84.68" fill="#000"><tspan font-weight="normal">(</tspan>a<tspan font-weight="normal">)</tspan></text>
</g>
<line x1="163.5" y1="3971.5" x2="163.5" y2="3946.5" stroke="#222" stroke-width="2.2"/>
<line x1="163.5" y1="2187.5" x2="163.5" y2="2212.5" stroke="#222" stroke-width="2.2"/>
<line x1="337.6" y1="3971.5" x2="337.6" y2="3946.5" stroke="#222" stroke-width="2.2"/>
<line x1="337.6" y1="2187.5" x2="337.6" y2="2212.5" stroke="#222" stroke-width="2.2"/>
<line x1="511.7" y1="3971.5" x2="511.7" y2="3946.5" stroke="#222" stroke-width="2.2"/>
<line x1="511.7" y1="2187.5" x2="511.7" y2="2212.5" stroke="#222" stroke-width="2.2"/>
<line x1="685.9" y1="3971.5" x2="685.9" y2="3946.5" stroke="#222" stroke-width="2.2"/>
<line x1="685.9" y1="2187.5" x2="685.9" y2="2212.5" stroke="#222" stroke-width="2.2"/>
<line x1="860.0" y1="3971.5" x2="860.0" y2="3946.5" stroke="#222" stroke-width="2.2"/>
<line x1="860.0" y1="2187.5" x2="860.0" y2="2212.5" stroke="#222" stroke-width="2.2"/>
<line x1="1034.1" y1="3971.5" x2="1034.1" y2="3946.5" stroke="#222" stroke-width="2.2"/>
<line x1="1034.1" y1="2187.5" x2="1034.1" y2="2212.5" stroke="#222" stroke-width="2.2"/>
<line x1="1208.2" y1="3971.5" x2="1208.2" y2="3946.5" stroke="#222" stroke-width="2.2"/>
<line x1="1208.2" y1="2187.5" x2="1208.2" y2="2212.5" stroke="#222" stroke-width="2.2"/>
<line x1="1382.3" y1="3971.5" x2="1382.3" y2="3946.5" stroke="#222" stroke-width="2.2"/>
<line x1="1382.3" y1="2187.5" x2="1382.3" y2="2212.5" stroke="#222" stroke-width="2.2"/>
<line x1="1556.5" y1="3971.5" x2="1556.5" y2="3946.5" stroke="#222" stroke-width="2.2"/>
<line x1="1556.5" y1="2187.5" x2="1556.5" y2="2212.5" stroke="#222" stroke-width="2.2"/>
<line x1="1730.6" y1="3971.5" x2="1730.6" y2="3946.5" stroke="#222" stroke-width="2.2"/>
<line x1="1730.6" y1="2187.5" x2="1730.6" y2="2212.5" stroke="#222" stroke-width="2.2"/>
<line x1="1904.7" y1="3971.5" x2="1904.7" y2="3946.5" stroke="#222" stroke-width="2.2"/>
<line x1="1904.7" y1="2187.5" x2="1904.7" y2="2212.5" stroke="#222" stroke-width="2.2"/>
<line x1="163.5" y1="3971.3" x2="180.5" y2="3971.3" stroke="#222" stroke-width="3"/>
<line x1="1904.7" y1="3971.3" x2="1887.7" y2="3971.3" stroke="#222" stroke-width="3"/>
<line x1="163.5" y1="3773.1" x2="180.5" y2="3773.1" stroke="#222" stroke-width="3"/>
<line x1="1904.7" y1="3773.1" x2="1887.7" y2="3773.1" stroke="#222" stroke-width="3"/>
<line x1="163.5" y1="3574.9" x2="180.5" y2="3574.9" stroke="#222" stroke-width="3"/>
<line x1="1904.7" y1="3574.9" x2="1887.7" y2="3574.9" stroke="#222" stroke-width="3"/>
<line x1="163.5" y1="3376.7" x2="180.5" y2="3376.7" stroke="#222" stroke-width="3"/>
<line x1="1904.7" y1="3376.7" x2="1887.7" y2="3376.7" stroke="#222" stroke-width="3"/>
<line x1="163.5" y1="3178.5" x2="180.5" y2="3178.5" stroke="#222" stroke-width="3"/>
<line x1="1904.7" y1="3178.5" x2="1887.7" y2="3178.5" stroke="#222" stroke-width="3"/>
<line x1="163.5" y1="2980.3" x2="180.5" y2="2980.3" stroke="#222" stroke-width="3"/>
<line x1="1904.7" y1="2980.3" x2="1887.7" y2="2980.3" stroke="#222" stroke-width="3"/>
<line x1="163.5" y1="2782.1" x2="180.5" y2="2782.1" stroke="#222" stroke-width="3"/>
<line x1="1904.7" y1="2782.1" x2="1887.7" y2="2782.1" stroke="#222" stroke-width="3"/>
<line x1="163.5" y1="2583.9" x2="180.5" y2="2583.9" stroke="#222" stroke-width="3"/>
<line x1="1904.7" y1="2583.9" x2="1887.7" y2="2583.9" stroke="#222" stroke-width="3"/>
<line x1="163.5" y1="2385.7" x2="180.5" y2="2385.7" stroke="#222" stroke-width="3"/>
<line x1="1904.7" y1="2385.7" x2="1887.7" y2="2385.7" stroke="#222" stroke-width="3"/>
<line x1="163.5" y1="2187.5" x2="180.5" y2="2187.5" stroke="#222" stroke-width="3"/>
<line x1="1904.7" y1="2187.5" x2="1887.7" y2="2187.5" stroke="#222" stroke-width="3"/>
<line x1="163.5" y1="2187.5" x2="163.5" y2="3971.5" stroke="#111" stroke-width="3.2"/>
<line x1="161.9" y1="2187.5" x2="1906.3" y2="2187.5" stroke="#111" stroke-width="3.2"/>
<line x1="1904.7" y1="2187.5" x2="1904.7" y2="3971.5" stroke="#111" stroke-width="2.2"/>
<line x1="161.9" y1="3971.5" x2="1906.3" y2="3971.5" stroke="#111" stroke-width="3.2"/>
<text transform="translate(154.25,4052.70) scale(0.6096,1)" font-family='"Liberation Serif", serif' font-weight="bold" font-size="60.70" fill="#111">0</text>
<text transform="translate(328.37,4052.70) scale(0.6096,1)" font-family='"Liberation Serif", serif' font-weight="bold" font-size="60.70" fill="#111">2</text>
<text transform="translate(502.58,4052.70) scale(0.6096,1)" font-family='"Liberation Serif", serif' font-weight="bold" font-size="60.70" fill="#111">4</text>
<text transform="translate(676.52,4052.70) scale(0.6096,1)" font-family='"Liberation Serif", serif' font-weight="bold" font-size="60.70" fill="#111">6</text>
<text transform="translate(850.73,4052.70) scale(0.6096,1)" font-family='"Liberation Serif", serif' font-weight="bold" font-size="60.70" fill="#111">8</text>
<text transform="translate(1014.81,4052.70) scale(0.6096,1)" font-family='"Liberation Serif", serif' font-weight="bold" font-size="60.70" fill="#111">10</text>
<text transform="translate(1189.03,4052.70) scale(0.6096,1)" font-family='"Liberation Serif", serif' font-weight="bold" font-size="60.70" fill="#111">12</text>
<text transform="translate(1362.68,4052.70) scale(0.6096,1)" font-family='"Liberation Serif", serif' font-weight="bold" font-size="60.70" fill="#111">14</text>
<text transform="translate(1537.04,4052.70) scale(0.6096,1)" font-family='"Liberation Serif", serif' font-weight="bold" font-size="60.70" fill="#111">16</text>
<text transform="translate(1711.20,4052.70) scale(0.6096,1)" font-family='"Liberation Serif", serif' font-weight="bold" font-size="60.70" fill="#111">18</text>
<text transform="translate(1886.11,4052.70) scale(0.6096,1)" font-family='"Liberation Serif", serif' font-weight="bold" font-size="60.70" fill="#111">20</text>
<text transform="translate(95.59,3993.98) scale(0.6096,1)" font-family='"Liberation Serif", serif' font-weight="bold" font-size="60.70" fill="#111">-10</text>
<text transform="translate(126.39,3793.28) scale(0.6096,1)" font-family='"Liberation Serif", serif' font-weight="bold" font-size="60.70" fill="#111">0</text>
<text transform="translate(107.89,3595.08) scale(0.6096,1)" font-family='"Liberation Serif", serif' font-weight="bold" font-size="60.70" fill="#111">10</text>
<text transform="translate(107.89,3396.88) scale(0.6096,1)" font-family='"Liberation Serif", serif' font-weight="bold" font-size="60.70" fill="#111">20</text>
<text transform="translate(107.89,3198.68) scale(0.6096,1)" font-family='"Liberation Serif", serif' font-weight="bold" font-size="60.70" fill="#111">30</text>
<text transform="translate(107.89,3000.48) scale(0.6096,1)" font-family='"Liberation Serif", serif' font-weight="bold" font-size="60.70" fill="#111">40</text>
<text transform="translate(107.89,2802.28) scale(0.6096,1)" font-family='"Liberation Serif", serif' font-weight="bold" font-size="60.70" fill="#111">50</text>
<text transform="translate(107.89,2604.08) scale(0.6096,1)" font-family='"Liberation Serif", serif' font-weight="bold" font-size="60.70" fill="#111">60</text>
<text transform="translate(107.89,2405.88) scale(0.6096,1)" font-family='"Liberation Serif", serif' font-weight="bold" font-size="60.70" fill="#111">70</text>
<text transform="translate(107.89,2207.68) scale(0.6096,1)" font-family='"Liberation Serif", serif' font-weight="bold" font-size="60.70" fill="#111">80</text>
<g transform="scale(1,1.62)" fill="#ff0000" stroke="#0000ff" stroke-width="3.6">
<circle cx="1760.3" cy="2130.6" r="9.00" stroke-width="3.6"/>
<circle cx="1725.0" cy="1882.3" r="9.00" stroke-width="3.6"/>
<circle cx="1715.0" cy="1858.7" r="9.00" stroke-width="3.6"/>
<circle cx="1706.6" cy="1843.1" r="9.00" stroke-width="3.6"/>
<circle cx="1671.2" cy="1714.2" r="9.0"/>
<circle cx="1670.5" cy="1725.9" r="9.0"/>
<circle cx="1667.9" cy="1711.1" r="9.0"/>
<circle cx="1664.0" cy="1697.1" r="9.0"/>
<circle cx="1663.6" cy="1702.7" r="9.0"/>
<circle cx="1661.2" cy="1687.1" r="9.0"/>
<circle cx="1658.5" cy="1673.1" r="9.0"/>
<circle cx="1657.4" cy="1681.4" r="9.0"/>
<circle cx="1652.8" cy="1667.9" r="9.0"/>
<circle cx="1650.3" cy="1663.6" r="9.0"/>
<circle cx="1646.4" cy="1657.2" r="9.0"/>
<circle cx="1645.9" cy="1648.0" r="9.0"/>
<circle cx="1641.5" cy="1644.0" r="9.0"/>
<circle cx="1639.1" cy="1636.5" r="9.0"/>
<circle cx="1634.6" cy="1633.6" r="9.0"/>
<circle cx="1631.2" cy="1627.7" r="9.0"/>
<circle cx="1628.9" cy="1620.5" r="9.0"/>
<circle cx="1627.1" cy="1613.8" r="9.0"/>
<circle cx="1623.3" cy="1611.0" r="9.0"/>
<circle cx="1620.9" cy="1605.2" r="9.0"/>
<circle cx="1615.6" cy="1600.2" r="9.0"/>
<circle cx="1612.1" cy="1595.7" r="9.0"/>
<circle cx="1608.5" cy="1586.6" r="9.0"/>
<circle cx="1604.5" cy="1582.6" r="9.0"/>
<circle cx="1604.0" cy="1575.9" r="9.0"/>
<circle cx="1598.2" cy="1571.8" r="9.0"/>
<circle cx="1594.0" cy="1568.6" r="9.0"/>
<circle cx="1592.1" cy="1553.3" r="9.0"/>
<circle cx="1590.6" cy="1562.1" r="9.0"/>
<circle cx="1588.4" cy="1548.5" r="9.0"/>
<circle cx="1586.3" cy="1540.5" r="9.0"/>
<circle cx="1584.1" cy="1534.8" r="9.0"/>
<circle cx="1582.0" cy="1530.1" r="9.0"/>
<circle cx="1578.9" cy="1525.3" r="9.0"/>
<circle cx="1576.7" cy="1518.0" r="9.0"/>
<circle cx="1573.1" cy="1511.8" r="9.0"/>
<circle cx="1566.9" cy="1510.8" r="9.0"/>
<circle cx="1566.9" cy="1504.9" r="9.0"/>
<circle cx="1560.8" cy="1502.3" r="9.0"/>
<circle cx="1555.2" cy="1496.5" r="9.0"/>
<circle cx="1551.9" cy="1494.3" r="9.0"/>
<circle cx="1547.5" cy="1487.3" r="9.0"/>
<circle cx="1544.0" cy="1478.6" r="9.0"/>
<circle cx="1543.6" cy="1483.8" r="9.0"/>
<circle cx="1539.8" cy="1475.1" r="9.0"/>
<circle cx="1538.4" cy="1467.7" r="9.0"/>
<circle cx="1534.5" cy="1461.3" r="9.0"/>
<circle cx="1531.1" cy="1457.1" r="9.0"/>
<circle cx="1526.5" cy="1455.0" r="9.0"/>
<circle cx="1519.9" cy="1453.5" r="9.0"/>
<circle cx="1518.2" cy="1445.7" r="9.0"/>
<circle cx="1513.8" cy="1443.2" r="9.0"/>
<circle cx="1511.0" cy="1438.2" r="9.0"/>
<circle cx="1506.0" cy="1435.4" r="9.0"/>
<circle cx="1500.7" cy="1432.1" r="9.0"/>
<circle cx="1498.1" cy="1428.8" r="9.0"/>
<circle cx="1493.8" cy="1424.3" r="9.0"/>
<circle cx="1487.1" cy="1425.5" r="9.0"/>
<circle cx="1484.0" cy="1421.9" r="9.0"/>
<circle cx="1480.2" cy="1417.8" r="9.0"/>
<circle cx="1475.1" cy="1413.6" r="9.0"/>
<circle cx="1468.5" cy="1414.5" r="9.0"/>
<circle cx="1463.5" cy="1411.6" r="9.0"/>
<circle cx="1461.3" cy="1408.4" r="9.0"/>
<circle cx="1455.7" cy="1403.0" r="9.0"/>
<circle cx="1449.8" cy="1403.7" r="9.0"/>
<circle cx="1447.8" cy="1399.4" r="9.0"/>
<circle cx="1445.2" cy="1394.8" r="9.0"/>
<circle cx="1437.6" cy="1393.5" r="9.0"/>
<circle cx="1431.5" cy="1395.0" r="9.0"/>
<circle cx="1429.8" cy="1388.1" r="9.0"/>
<circle cx="1422.1" cy="1390.3" r="9.0"/>
<circle cx="1418.6" cy="1389.1" r="9.0"/>
<circle cx="1411.4" cy="1388.1" r="9.0"/>
<circle cx="1406.0" cy="1386.7" r="9.0"/>
<circle cx="1402.9" cy="1382.1" r="9.0"/>
<circle cx="1396.7" cy="1381.5" r="9.0"/>
<circle cx="1390.2" cy="1382.1" r="9.0"/>
<circle cx="1389.4" cy="1377.6" r="9.0"/>
<circle cx="1381.6" cy="1376.7" r="9.0"/>
<circle cx="1377.1" cy="1371.0" r="9.00" stroke-width="3.6"/>
<circle cx="1359.1" cy="1372.4" r="9.00" stroke-width="3.6"/>
<circle cx="1341.1" cy="1373.9" r="9.00" stroke-width="3.6"/>
<circle cx="1315.0" cy="1382.6" r="9.00" stroke-width="3.6"/>
<circle cx="1286.1" cy="1399.2" r="9.00" stroke-width="3.6"/>
<circle cx="1275.7" cy="1401.3" r="9.00" stroke-width="3.6"/>
<circle cx="1255.6" cy="1412.4" r="9.00" stroke-width="3.6"/>
<circle cx="1237.9" cy="1421.2" r="9.00" stroke-width="3.6"/>
<circle cx="1211.4" cy="1437.9" r="9.00" stroke-width="3.6"/>
<circle cx="1194.6" cy="1447.0" r="9.00" stroke-width="3.6"/>
<circle cx="1148.2" cy="1481.0" r="9.00" stroke-width="3.6"/>
<circle cx="1110.8" cy="1507.5" r="9.00" stroke-width="3.6"/>
<circle cx="1037.1" cy="1566.6" r="9.00" stroke-width="3.6"/>
<circle cx="753.8" cy="1810.5" r="9.00" stroke-width="3.6"/>
<circle cx="370.1" cy="2146.4" r="9.00" stroke-width="3.6"/>
<circle cx="267.3" cy="2236.7" r="9.00" stroke-width="3.6"/>
<circle cx="223.4" cy="2275.4" r="9.00" stroke-width="3.6"/>
<circle cx="209.6" cy="2287.6" r="9.00" stroke-width="3.6"/>
<circle cx="203.4" cy="2292.9" r="9.00" stroke-width="3.6"/>
<circle cx="1675.2" cy="1942.2" r="9.0"/>
<circle cx="1674.2" cy="1936.5" r="9.0"/>
<circle cx="1669.3" cy="1927.8" r="9.0"/>
<circle cx="1667.4" cy="1921.0" r="9.0"/>
<circle cx="1667.4" cy="1915.2" r="9.0"/>
<circle cx="1663.5" cy="1908.2" r="9.0"/>
<circle cx="1658.5" cy="1900.4" r="9.0"/>
<circle cx="1656.3" cy="1893.0" r="9.0"/>
<circle cx="1656.2" cy="1877.0" r="9.0"/>
<circle cx="1656.2" cy="1886.9" r="9.0"/>
<circle cx="1655.2" cy="1852.8" r="9.0"/>
<circle cx="1654.3" cy="1863.3" r="9.0"/>
<circle cx="1653.4" cy="1847.6" r="9.0"/>
<circle cx="1653.4" cy="1872.6" r="9.0"/>
<circle cx="1649.4" cy="1833.5" r="9.0"/>
<circle cx="1649.0" cy="1840.3" r="9.0"/>
<circle cx="1646.3" cy="1827.7" r="9.0"/>
<circle cx="1644.3" cy="1820.7" r="9.0"/>
<circle cx="1643.3" cy="1813.4" r="9.0"/>
<circle cx="1640.4" cy="1804.5" r="9.0"/>
<circle cx="1637.7" cy="1789.4" r="9.0"/>
<circle cx="1636.6" cy="1798.0" r="9.0"/>
<circle cx="1629.8" cy="1787.2" r="9.0"/>
<circle cx="1627.1" cy="1782.4" r="9.0"/>
<circle cx="1625.4" cy="1772.4" r="9.0"/>
<circle cx="1622.3" cy="1768.7" r="9.0"/>
<circle cx="1618.8" cy="1763.1" r="9.0"/>
<circle cx="1616.2" cy="1755.7" r="9.0"/>
<circle cx="1608.8" cy="1745.7" r="9.0"/>
<circle cx="1608.6" cy="1750.4" r="9.0"/>
<circle cx="1603.0" cy="1740.0" r="9.0"/>
<circle cx="1602.5" cy="1733.0" r="9.0"/>
<circle cx="1595.4" cy="1730.0" r="9.0"/>
<circle cx="1593.2" cy="1720.8" r="9.0"/>
<circle cx="1589.9" cy="1711.3" r="9.0"/>
<circle cx="1588.6" cy="1717.9" r="9.0"/>
<circle cx="1583.2" cy="1705.3" r="9.0"/>
<circle cx="1582.2" cy="1698.9" r="9.0"/>
<circle cx="1580.5" cy="1692.2" r="9.0"/>
<circle cx="1576.9" cy="1688.0" r="9.0"/>
<circle cx="1574.1" cy="1680.8" r="9.0"/>
<circle cx="1570.0" cy="1674.7" r="9.0"/>
<circle cx="1565.1" cy="1671.4" r="9.0"/>
<circle cx="1559.7" cy="1666.0" r="9.0"/>
<circle cx="1559.5" cy="1659.5" r="9.0"/>
<circle cx="1551.0" cy="1659.5" r="9.0"/>
<circle cx="1548.7" cy="1650.6" r="9.0"/>
<circle cx="1546.7" cy="1648.1" r="9.0"/>
<circle cx="1543.9" cy="1640.0" r="9.0"/>
<circle cx="1541.0" cy="1636.1" r="9.0"/>
<circle cx="1536.7" cy="1631.2" r="9.0"/>
<circle cx="1534.9" cy="1625.3" r="9.0"/>
<circle cx="1532.2" cy="1618.9" r="9.0"/>
<circle cx="1527.5" cy="1615.7" r="9.0"/>
<circle cx="1526.6" cy="1607.1" r="9.0"/>
<circle cx="1520.0" cy="1600.1" r="9.0"/>
<circle cx="1519.7" cy="1605.8" r="9.0"/>
<circle cx="1512.6" cy="1596.4" r="9.0"/>
<circle cx="1509.0" cy="1591.5" r="9.0"/>
<circle cx="1505.4" cy="1588.6" r="9.0"/>
<circle cx="1501.8" cy="1583.0" r="9.0"/>
<circle cx="1499.3" cy="1577.7" r="9.0"/>
<circle cx="1494.5" cy="1572.4" r="9.0"/>
<circle cx="1488.5" cy="1572.6" r="9.0"/>
<circle cx="1484.5" cy="1567.0" r="9.0"/>
<circle cx="1477.8" cy="1566.0" r="9.0"/>
<circle cx="1476.0" cy="1561.2" r="9.0"/>
<circle cx="1467.6" cy="1559.1" r="9.0"/>
<circle cx="1466.6" cy="1557.3" r="9.0"/>
<circle cx="1458.0" cy="1556.2" r="9.0"/>
<circle cx="1454.7" cy="1551.8" r="9.0"/>
<circle cx="1451.2" cy="1546.8" r="9.0"/>
<circle cx="1447.4" cy="1544.4" r="9.0"/>
<circle cx="1438.5" cy="1543.9" r="9.0"/>
<circle cx="1437.0" cy="1539.2" r="9.0"/>
<circle cx="1430.4" cy="1539.0" r="9.0"/>
<circle cx="1424.4" cy="1536.7" r="9.0"/>
<circle cx="1417.9" cy="1537.0" r="9.0"/>
<circle cx="1394.4" cy="1552.1" r="9.0"/>
<circle cx="1390.4" cy="1548.2" r="9.0"/>
<circle cx="1388.9" cy="1542.9" r="9.0"/>
<circle cx="1382.7" cy="1539.2" r="9.0"/>
<circle cx="1380.6" cy="1537.7" r="9.0"/>
<circle cx="1375.0" cy="1535.7" r="9.0"/>
<circle cx="1370.3" cy="1530.9" r="9.0"/>
<circle cx="1364.6" cy="1532.2" r="9.0"/>
<circle cx="1358.3" cy="1531.4" r="9.0"/>
<circle cx="1354.4" cy="1527.6" r="9.0"/>
<circle cx="1347.1" cy="1527.6" r="9.0"/>
<circle cx="1340.3" cy="1529.2" r="9.0"/>
<circle cx="1335.2" cy="1528.9" r="9.0"/>
<circle cx="1327.2" cy="1527.1" r="9.0"/>
<circle cx="1325.5" cy="1525.8" r="9.0"/>
<circle cx="1315.4" cy="1529.5" r="9.0"/>
<circle cx="1310.9" cy="1527.7" r="9.00" stroke-width="3.6"/>
<circle cx="1308.5" cy="1529.5" r="9.0"/>
<circle cx="1284.9" cy="1538.6" r="9.00" stroke-width="3.6"/>
<circle cx="1270.8" cy="1543.0" r="9.00" stroke-width="3.6"/>
<circle cx="1201.9" cy="1573.2" r="9.00" stroke-width="3.6"/>
<circle cx="1184.6" cy="1583.0" r="9.00" stroke-width="3.6"/>
<circle cx="1158.5" cy="1596.5" r="9.00" stroke-width="3.6"/>
<circle cx="1135.0" cy="1605.8" r="9.00" stroke-width="3.6"/>
<circle cx="1107.5" cy="1625.1" r="9.00" stroke-width="3.6"/>
<circle cx="1056.6" cy="1661.9" r="9.00" stroke-width="3.6"/>
<circle cx="893.4" cy="1776.0" r="9.00" stroke-width="3.6"/>
<circle cx="482.9" cy="2084.7" r="9.00" stroke-width="3.6"/>
<circle cx="286.2" cy="2235.2" r="9.00" stroke-width="3.6"/>
<circle cx="250.3" cy="2262.5" r="9.00" stroke-width="3.6"/>
<circle cx="218.5" cy="2286.9" r="9.00" stroke-width="3.6"/>
<circle cx="214.2" cy="2291.9" r="9.00" stroke-width="3.6"/>
<circle cx="209.6" cy="2293.7" r="9.00" stroke-width="3.6"/>
<circle cx="199.7" cy="2302.8" r="9.00" stroke-width="3.6"/>
<circle cx="197.1" cy="2303.0" r="9.00" stroke-width="3.6"/>
<circle cx="1652.0" cy="1928.1" r="9.0"/>
<circle cx="1649.4" cy="1924.9" r="9.0"/>
<circle cx="1645.3" cy="1901.5" r="9.0"/>
<circle cx="1644.7" cy="1915.0" r="9.0"/>
<circle cx="1644.5" cy="1884.0" r="9.0"/>
<circle cx="1643.6" cy="1907.8" r="9.0"/>
<circle cx="1642.7" cy="1892.5" r="9.0"/>
<circle cx="1642.1" cy="1878.4" r="9.0"/>
<circle cx="1640.8" cy="1867.8" r="9.0"/>
<circle cx="1639.4" cy="1860.3" r="9.0"/>
<circle cx="1633.4" cy="1855.1" r="9.0"/>
<circle cx="1631.2" cy="1850.3" r="9.0"/>
<circle cx="1630.1" cy="1845.4" r="9.0"/>
<circle cx="1626.7" cy="1836.4" r="9.0"/>
<circle cx="1625.3" cy="1831.5" r="9.0"/>
<circle cx="1622.4" cy="1821.9" r="9.0"/>
<circle cx="1622.1" cy="1813.5" r="9.0"/>
<circle cx="1621.3" cy="1806.6" r="9.0"/>
<circle cx="1620.3" cy="1790.2" r="9.0"/>
<circle cx="1619.5" cy="1802.3" r="9.0"/>
<circle cx="1611.7" cy="1787.4" r="9.0"/>
<circle cx="1609.4" cy="1781.2" r="9.0"/>
<circle cx="1604.9" cy="1778.3" r="9.0"/>
<circle cx="1602.4" cy="1769.4" r="9.0"/>
<circle cx="1598.5" cy="1766.8" r="9.0"/>
<circle cx="1592.8" cy="1759.4" r="9.0"/>
<circle cx="1590.0" cy="1756.4" r="9.0"/>
<circle cx="1589.5" cy="1746.1" r="9.0"/>
<circle cx="1585.3" cy="1741.9" r="9.0"/>
<circle cx="1579.8" cy="1739.3" r="9.0"/>
<circle cx="1579.8" cy="1731.0" r="9.0"/>
<circle cx="1575.3" cy="1726.7" r="9.0"/>
<circle cx="1572.4" cy="1717.4" r="9.0"/>
<circle cx="1572.2" cy="1710.4" r="9.0"/>
<circle cx="1567.2" cy="1709.2" r="9.0"/>
<circle cx="1564.1" cy="1702.2" r="9.0"/>
<circle cx="1560.7" cy="1695.8" r="9.0"/>
<circle cx="1558.5" cy="1689.7" r="9.0"/>
<circle cx="1552.6" cy="1687.2" r="9.0"/>
<circle cx="1549.2" cy="1680.6" r="9.0"/>
<circle cx="1544.6" cy="1678.0" r="9.0"/>
<circle cx="1541.0" cy="1669.5" r="9.0"/>
<circle cx="1538.6" cy="1665.7" r="9.0"/>
<circle cx="1535.6" cy="1660.4" r="9.0"/>
<circle cx="1527.6" cy="1656.9" r="9.0"/>
<circle cx="1523.1" cy="1652.6" r="9.0"/>
<circle cx="1519.6" cy="1650.6" r="9.0"/>
<circle cx="1517.3" cy="1646.2" r="9.0"/>
<circle cx="1511.3" cy="1642.0" r="9.0"/>
<circle cx="1507.8" cy="1637.4" r="9.0"/>
<circle cx="1502.2" cy="1632.2" r="9.0"/>
<circle cx="1501.7" cy="1629.3" r="9.0"/>
<circle cx="1494.6" cy="1624.4" r="9.0"/>
<circle cx="1489.6" cy="1622.4" r="9.0"/>
<circle cx="1488.7" cy="1614.1" r="9.0"/>
<circle cx="1482.5" cy="1611.6" r="9.0"/>
<circle cx="1478.3" cy="1607.6" r="9.0"/>
<circle cx="1475.5" cy="1603.4" r="9.0"/>
<circle cx="1470.7" cy="1601.5" r="9.0"/>
<circle cx="1462.7" cy="1600.0" r="9.0"/>
<circle cx="1459.2" cy="1594.6" r="9.0"/>
<circle cx="1453.6" cy="1596.2" r="9.0"/>
<circle cx="1448.7" cy="1591.9" r="9.0"/>
<circle cx="1443.8" cy="1590.7" r="9.0"/>
<circle cx="1435.4" cy="1588.3" r="9.0"/>
<circle cx="1432.2" cy="1587.7" r="9.0"/>
<circle cx="1421.9" cy="1585.8" r="9.0"/>
<circle cx="1417.5" cy="1585.6" r="9.0"/>
<circle cx="1413.9" cy="1579.5" r="9.0"/>
<circle cx="1408.7" cy="1579.3" r="9.0"/>
<circle cx="1384.4" cy="1589.7" r="9.0"/>
<circle cx="1379.7" cy="1587.0" r="9.0"/>
<circle cx="1375.0" cy="1585.8" r="9.0"/>
<circle cx="1365.1" cy="1587.6" r="9.0"/>
<circle cx="1359.0" cy="1587.3" r="9.0"/>
<circle cx="1353.1" cy="1586.2" r="9.0"/>
<circle cx="1348.8" cy="1586.8" r="9.0"/>
<circle cx="1340.9" cy="1584.6" r="9.0"/>
<circle cx="1332.4" cy="1588.2" r="9.0"/>
<circle cx="1327.2" cy="1587.0" r="9.0"/>
<circle cx="1317.1" cy="1588.0" r="9.0"/>
<circle cx="1313.8" cy="1589.4" r="9.0"/>
<circle cx="1310.9" cy="1583.6" r="9.00" stroke-width="3.6"/>
<circle cx="1296.9" cy="1586.9" r="9.00" stroke-width="3.6"/>
<circle cx="1275.7" cy="1595.1" r="9.00" stroke-width="3.6"/>
<circle cx="1197.4" cy="1642.7" r="9.00" stroke-width="3.6"/>
<circle cx="1179.2" cy="1648.3" r="9.00" stroke-width="3.6"/>
<circle cx="1151.6" cy="1661.4" r="9.00" stroke-width="3.6"/>
<circle cx="1124.0" cy="1675.1" r="9.00" stroke-width="3.6"/>
<circle cx="1102.6" cy="1683.7" r="9.00" stroke-width="3.6"/>
<circle cx="931.1" cy="1797.4" r="9.00" stroke-width="3.6"/>
<circle cx="689.4" cy="1961.9" r="9.00" stroke-width="3.6"/>
<circle cx="288.6" cy="2241.2" r="9.00" stroke-width="3.6"/>
<circle cx="243.5" cy="2272.4" r="9.00" stroke-width="3.6"/>
<circle cx="203.8" cy="2300.3" r="9.00" stroke-width="3.6"/>
<circle cx="1691.4" cy="2084.4" r="9.0"/>
<circle cx="1690.9" cy="2096.7" r="9.0"/>
<circle cx="1690.6" cy="2078.8" r="9.0"/>
<circle cx="1689.8" cy="2101.3" r="9.0"/>
<circle cx="1689.7" cy="2111.2" r="9.0"/>
<circle cx="1687.4" cy="2072.6" r="9.0"/>
<circle cx="1681.6" cy="2056.8" r="9.0"/>
<circle cx="1680.4" cy="2067.1" r="9.0"/>
<circle cx="1675.6" cy="2053.5" r="9.0"/>
<circle cx="1674.5" cy="2045.7" r="9.0"/>
<circle cx="1667.6" cy="2037.8" r="9.0"/>
<circle cx="1665.6" cy="2029.9" r="9.0"/>
<circle cx="1663.4" cy="2023.8" r="9.0"/>
<circle cx="1658.7" cy="2016.1" r="9.0"/>
<circle cx="1657.3" cy="2012.1" r="9.0"/>
<circle cx="1654.0" cy="2004.4" r="9.0"/>
<circle cx="1648.9" cy="1999.0" r="9.0"/>
<circle cx="1646.9" cy="1991.9" r="9.0"/>
<circle cx="1643.5" cy="1982.0" r="9.0"/>
<circle cx="1640.1" cy="1976.7" r="9.0"/>
<circle cx="1637.8" cy="1968.1" r="9.0"/>
<circle cx="1637.8" cy="1964.6" r="9.0"/>
<circle cx="1633.6" cy="1955.5" r="9.0"/>
<circle cx="1626.1" cy="1953.3" r="9.0"/>
<circle cx="1623.2" cy="1943.8" r="9.0"/>
<circle cx="1618.2" cy="1941.3" r="9.0"/>
<circle cx="1616.9" cy="1925.6" r="9.0"/>
<circle cx="1615.9" cy="1933.6" r="9.0"/>
<circle cx="1611.2" cy="1920.7" r="9.0"/>
<circle cx="1607.1" cy="1911.7" r="9.0"/>
<circle cx="1604.5" cy="1909.3" r="9.0"/>
<circle cx="1601.1" cy="1903.7" r="9.0"/>
<circle cx="1593.3" cy="1897.9" r="9.0"/>
<circle cx="1589.2" cy="1893.0" r="9.0"/>
<circle cx="1586.0" cy="1889.1" r="9.0"/>
<circle cx="1583.7" cy="1872.8" r="9.0"/>
<circle cx="1582.5" cy="1881.8" r="9.0"/>
<circle cx="1579.5" cy="1869.8" r="9.0"/>
<circle cx="1577.2" cy="1863.2" r="9.0"/>
<circle cx="1573.9" cy="1854.6" r="9.0"/>
<circle cx="1570.2" cy="1850.6" r="9.0"/>
<circle cx="1568.4" cy="1844.5" r="9.0"/>
<circle cx="1562.7" cy="1839.2" r="9.0"/>
<circle cx="1561.4" cy="1831.8" r="9.0"/>
<circle cx="1557.8" cy="1826.3" r="9.0"/>
<circle cx="1554.7" cy="1820.1" r="9.0"/>
<circle cx="1550.5" cy="1815.5" r="9.0"/>
<circle cx="1548.2" cy="1810.6" r="9.0"/>
<circle cx="1544.1" cy="1807.8" r="9.0"/>
<circle cx="1539.8" cy="1801.6" r="9.0"/>
<circle cx="1533.6" cy="1798.4" r="9.0"/>
<circle cx="1528.4" cy="1791.7" r="9.0"/>
<circle cx="1527.0" cy="1787.2" r="9.0"/>
<circle cx="1521.1" cy="1785.6" r="9.0"/>
<circle cx="1515.7" cy="1777.2" r="9.0"/>
<circle cx="1512.2" cy="1774.0" r="9.0"/>
<circle cx="1508.6" cy="1768.7" r="9.0"/>
<circle cx="1505.2" cy="1763.2" r="9.0"/>
<circle cx="1501.5" cy="1759.3" r="9.0"/>
<circle cx="1497.3" cy="1756.3" r="9.0"/>
<circle cx="1490.1" cy="1755.2" r="9.0"/>
<circle cx="1485.5" cy="1750.3" r="9.0"/>
<circle cx="1482.8" cy="1745.2" r="9.0"/>
<circle cx="1476.3" cy="1742.9" r="9.0"/>
<circle cx="1475.0" cy="1736.4" r="9.0"/>
<circle cx="1471.1" cy="1733.3" r="9.0"/>
<circle cx="1462.3" cy="1731.6" r="9.0"/>
<circle cx="1458.3" cy="1725.5" r="9.0"/>
<circle cx="1453.9" cy="1723.8" r="9.0"/>
<circle cx="1449.9" cy="1718.3" r="9.0"/>
<circle cx="1444.6" cy="1716.1" r="9.0"/>
<circle cx="1441.7" cy="1712.3" r="9.0"/>
<circle cx="1435.5" cy="1710.6" r="9.0"/>
<circle cx="1431.9" cy="1707.1" r="9.0"/>
<circle cx="1426.8" cy="1703.1" r="9.0"/>
<circle cx="1420.7" cy="1700.6" r="9.0"/>
<circle cx="1414.2" cy="1698.9" r="9.0"/>
<circle cx="1412.3" cy="1691.4" r="9.0"/>
<circle cx="1407.7" cy="1688.3" r="9.0"/>
<circle cx="1403.4" cy="1688.8" r="9.0"/>
<circle cx="1397.6" cy="1685.6" r="9.0"/>
<circle cx="1387.3" cy="1684.6" r="9.0"/>
<circle cx="1381.0" cy="1686.1" r="9.0"/>
<circle cx="1375.5" cy="1683.4" r="9.0"/>
<circle cx="1373.4" cy="1679.3" r="9.0"/>
<circle cx="1363.3" cy="1680.1" r="9.0"/>
<circle cx="1356.5" cy="1681.8" r="9.0"/>
<circle cx="1352.7" cy="1679.2" r="9.0"/>
<circle cx="1344.2" cy="1680.2" r="9.0"/>
<circle cx="1335.1" cy="1681.7" r="9.0"/>
<circle cx="1327.7" cy="1684.1" r="9.0"/>
<circle cx="1323.3" cy="1685.0" r="9.0"/>
<circle cx="1314.4" cy="1685.4" r="9.0"/>
<circle cx="1306.4" cy="1689.0" r="9.0"/>
<circle cx="1290.9" cy="1687.7" r="9.00" stroke-width="3.6"/>
<circle cx="1276.8" cy="1690.0" r="9.00" stroke-width="3.6"/>
<circle cx="1254.8" cy="1695.6" r="9.00" stroke-width="3.6"/>
<circle cx="1231.5" cy="1703.7" r="9.00" stroke-width="3.6"/>
<circle cx="1201.8" cy="1714.7" r="9.00" stroke-width="3.6"/>
<circle cx="1007.3" cy="1825.7" r="9.00" stroke-width="3.6"/>
<circle cx="845.8" cy="1917.7" r="9.00" stroke-width="3.6"/>
<circle cx="487.1" cy="2132.6" r="9.00" stroke-width="3.6"/>
<circle cx="297.8" cy="2246.7" r="9.00" stroke-width="3.6"/>
<circle cx="254.7" cy="2272.6" r="9.00" stroke-width="3.6"/>
<circle cx="240.1" cy="2281.2" r="9.00" stroke-width="3.6"/>
<circle cx="220.5" cy="2293.1" r="9.00" stroke-width="3.6"/>
<circle cx="1697.1" cy="2321.8" r="9.0"/>
<circle cx="1691.1" cy="2315.8" r="9.0"/>
<circle cx="1689.2" cy="2308.2" r="9.0"/>
<circle cx="1684.3" cy="2300.7" r="9.0"/>
<circle cx="1679.7" cy="2295.5" r="9.0"/>
<circle cx="1671.8" cy="2294.1" r="9.0"/>
<circle cx="1666.6" cy="2288.7" r="9.0"/>
<circle cx="1660.3" cy="2286.9" r="9.0"/>
<circle cx="1653.8" cy="2279.4" r="9.0"/>
<circle cx="1652.7" cy="2272.4" r="9.0"/>
<circle cx="1646.6" cy="2268.0" r="9.0"/>
<circle cx="1643.2" cy="2258.9" r="9.0"/>
<circle cx="1639.8" cy="2252.2" r="9.0"/>
<circle cx="1635.6" cy="2244.9" r="9.0"/>
<circle cx="1632.2" cy="2241.6" r="9.0"/>
<circle cx="1632.2" cy="2234.5" r="9.0"/>
<circle cx="1629.2" cy="2226.3" r="9.0"/>
<circle cx="1624.9" cy="2218.1" r="9.0"/>
<circle cx="1622.2" cy="2212.8" r="9.0"/>
<circle cx="1614.3" cy="2210.2" r="9.0"/>
<circle cx="1612.6" cy="2204.0" r="9.0"/>
<circle cx="1606.4" cy="2198.0" r="9.0"/>
<circle cx="1601.5" cy="2193.2" r="9.0"/>
<circle cx="1600.2" cy="2183.2" r="9.0"/>
<circle cx="1594.6" cy="2181.4" r="9.0"/>
<circle cx="1590.1" cy="2174.0" r="9.0"/>
<circle cx="1583.3" cy="2171.5" r="9.0"/>
<circle cx="1579.5" cy="2162.2" r="9.0"/>
<circle cx="1575.9" cy="2158.0" r="9.0"/>
<circle cx="1572.0" cy="2153.5" r="9.0"/>
<circle cx="1571.5" cy="2144.0" r="9.0"/>
<circle cx="1566.7" cy="2139.5" r="9.0"/>
<circle cx="1563.5" cy="2132.4" r="9.0"/>
<circle cx="1560.4" cy="2127.5" r="9.0"/>
<circle cx="1551.1" cy="2123.8" r="9.0"/>
<circle cx="1550.2" cy="2119.9" r="9.0"/>
<circle cx="1544.9" cy="2116.1" r="9.0"/>
<circle cx="1538.1" cy="2111.7" r="9.0"/>
<circle cx="1533.3" cy="2106.2" r="9.0"/>
<circle cx="1526.0" cy="2103.1" r="9.0"/>
<circle cx="1518.2" cy="2099.4" r="9.0"/>
<circle cx="1515.0" cy="2094.9" r="9.0"/>
<circle cx="1506.7" cy="2093.5" r="9.0"/>
<circle cx="1501.9" cy="2087.7" r="9.0"/>
<circle cx="1498.1" cy="2085.1" r="9.0"/>
<circle cx="1490.0" cy="2081.4" r="9.0"/>
<circle cx="1483.5" cy="2079.1" r="9.0"/>
<circle cx="1479.6" cy="2073.1" r="9.0"/>
<circle cx="1474.3" cy="2071.9" r="9.0"/>
<circle cx="1469.5" cy="2068.7" r="9.0"/>
<circle cx="1462.3" cy="2065.2" r="9.0"/>
<circle cx="1436.8" cy="2059.5" r="9.00" stroke-width="3.6"/>
<circle cx="1420.8" cy="2053.5" r="9.00" stroke-width="3.6"/>
<circle cx="1404.7" cy="2048.9" r="9.00" stroke-width="3.6"/>
<circle cx="1385.7" cy="2048.6" r="9.00" stroke-width="3.6"/>
<circle cx="1372.5" cy="2042.7" r="9.00" stroke-width="3.6"/>
<circle cx="1341.9" cy="2044.4" r="9.00" stroke-width="3.6"/>
<circle cx="1315.6" cy="2044.3" r="9.00" stroke-width="3.6"/>
<circle cx="1278.4" cy="2046.2" r="9.00" stroke-width="3.6"/>
<circle cx="1228.6" cy="2053.9" r="9.00" stroke-width="3.6"/>
<circle cx="736.1" cy="2178.0" r="9.00" stroke-width="3.6"/>
<circle cx="363.6" cy="2275.0" r="9.00" stroke-width="3.6"/>
<circle cx="246.3" cy="2306.2" r="9.00" stroke-width="3.6"/>
<circle cx="213.6" cy="2315.1" r="9.00" stroke-width="3.6"/>
<circle cx="1698.8" cy="2332.4" r="9.00" stroke-width="3.6"/>
<circle cx="1688.7" cy="2303.0" r="9.00" stroke-width="3.6"/>
<circle cx="1686.3" cy="2337.3" r="9.00" stroke-width="3.6"/>
<circle cx="1653.0" cy="2334.3" r="9.0"/>
<circle cx="1650.4" cy="2327.2" r="9.0"/>
<circle cx="1643.9" cy="2323.7" r="9.0"/>
<circle cx="1640.1" cy="2314.8" r="9.0"/>
<circle cx="1633.1" cy="2312.0" r="9.0"/>
<circle cx="1631.8" cy="2305.1" r="9.0"/>
<circle cx="1621.7" cy="2301.4" r="9.0"/>
<circle cx="1618.0" cy="2294.0" r="9.0"/>
<circle cx="1612.7" cy="2287.9" r="9.0"/>
<circle cx="1606.9" cy="2282.2" r="9.0"/>
<circle cx="1605.0" cy="2277.3" r="9.0"/>
<circle cx="1596.3" cy="2271.9" r="9.0"/>
<circle cx="1590.4" cy="2268.9" r="9.0"/>
<circle cx="1585.4" cy="2260.1" r="9.0"/>
<circle cx="1579.7" cy="2254.6" r="9.0"/>
<circle cx="1577.2" cy="2291.4" r="9.00" stroke-width="3.6"/>
<circle cx="1576.9" cy="2253.9" r="9.0"/>
<circle cx="1569.8" cy="2248.1" r="9.0"/>
<circle cx="1562.7" cy="2245.4" r="9.0"/>
<circle cx="1556.0" cy="2241.0" r="9.0"/>
<circle cx="1551.0" cy="2233.7" r="9.0"/>
<circle cx="1544.0" cy="2233.0" r="9.0"/>
<circle cx="1535.9" cy="2229.8" r="9.0"/>
<circle cx="1530.0" cy="2225.4" r="9.0"/>
<circle cx="1522.8" cy="2222.9" r="9.0"/>
<circle cx="1515.0" cy="2221.6" r="9.0"/>
<circle cx="1511.5" cy="2217.0" r="9.0"/>
<circle cx="1502.4" cy="2214.7" r="9.0"/>
<circle cx="1496.7" cy="2212.8" r="9.0"/>
<circle cx="1490.1" cy="2209.7" r="9.0"/>
<circle cx="1481.6" cy="2207.8" r="9.0"/>
<circle cx="1472.5" cy="2204.6" r="9.0"/>
<circle cx="1469.8" cy="2198.5" r="9.0"/>
<circle cx="1434.0" cy="2199.0" r="9.00" stroke-width="3.6"/>
<circle cx="1428.1" cy="2218.5" r="9.00" stroke-width="3.6"/>
<circle cx="1410.5" cy="2193.2" r="9.00" stroke-width="3.6"/>
<circle cx="1385.7" cy="2218.8" r="9.00" stroke-width="3.6"/>
<circle cx="1381.3" cy="2206.7" r="9.00" stroke-width="3.6"/>
<circle cx="1325.2" cy="2198.2" r="9.00" stroke-width="3.6"/>
<circle cx="1285.1" cy="2195.8" r="9.00" stroke-width="3.6"/>
<circle cx="1212.6" cy="2213.3" r="9.00" stroke-width="3.6"/>
<circle cx="1202.6" cy="2212.7" r="9.00" stroke-width="3.6"/>
<circle cx="1151.4" cy="2200.4" r="9.00" stroke-width="3.6"/>
<circle cx="1005.5" cy="2224.8" r="9.00" stroke-width="3.6"/>
<circle cx="1654.6" cy="2334.6" r="9.00" stroke-width="3.6"/>
<circle cx="1608.6" cy="2309.0" r="9.00" stroke-width="3.6"/>
<circle cx="1577.2" cy="2291.4" r="9.00" stroke-width="3.6"/>
<circle cx="1541.3" cy="2246.0" r="9.00" stroke-width="3.6"/>
<circle cx="1519.6" cy="2238.8" r="9.00" stroke-width="3.6"/>
<circle cx="1499.9" cy="2231.7" r="9.00" stroke-width="3.6"/>
<circle cx="195.6" cy="2325.3" r="9.00" stroke-width="3.6"/>
<circle cx="1759.7" cy="2130.0" r="9.00" stroke-width="3.6"/>
<circle cx="1713.7" cy="2172.0" r="9.00" stroke-width="3.6"/>
<circle cx="1712.7" cy="2206.3" r="9.00" stroke-width="3.6"/>
<circle cx="1733.4" cy="2195.4" r="9.00" stroke-width="3.6"/>
<circle cx="1750.5" cy="2184.5" r="9.00" stroke-width="3.6"/>
<circle cx="1714.7" cy="2221.9" r="9.00" stroke-width="3.6"/>
<circle cx="1742.2" cy="2208.6" r="9.00" stroke-width="3.6"/>
<circle cx="1766.6" cy="2239.5" r="9.00" stroke-width="3.6"/>
<circle cx="1766.6" cy="2260.7" r="9.00" stroke-width="3.6"/>
<circle cx="1731.0" cy="2257.3" r="9.00" stroke-width="3.6"/>
<circle cx="1757.4" cy="2279.9" r="9.00" stroke-width="3.6"/>
<circle cx="1732.2" cy="2312.8" r="9.00" stroke-width="3.6"/>
<circle cx="1758.6" cy="2324.3" r="9.00" stroke-width="3.6"/>
<circle cx="1783.8" cy="2321.8" r="9.00" stroke-width="3.6"/>
<circle cx="1774.8" cy="2310.1" r="9.00" stroke-width="3.6"/>
<circle cx="1722.5" cy="2215.5" r="9.00" stroke-width="3.6"/>
<circle cx="1738.3" cy="2239.1" r="9.00" stroke-width="3.6"/>
</g>
<polyline points="209.6,3706.5 223.4,3686.6 267.3,3623.4 370.1,3476.6 753.8,2940.1 1037.1,2563.6 1110.8,2471.2 1148.2,2426.3 1194.6,2372.6 1211.4,2354.0 1237.9,2326.5 1255.6,2309.7 1275.7,2292.5 1286.1,2284.5 1315.0,2265.1 1341.1,2251.1 1359.1,2243.2 1377.1,2236.7 1381.6,2235.3 1389.4,2233.0 1390.2,2232.8 1396.7,2231.1 1402.9,2229.8 1406.0,2229.5 1411.4,2229.5 1418.6,2230.4 1422.1,2231.1 1429.8,2233.6 1431.5,2234.3 1437.6,2237.2 1445.2,2241.7 1447.8,2243.3 1449.8,2244.8 1455.7,2249.2 1461.3,2253.9 1463.5,2255.8 1468.5,2260.4 1475.1,2266.9 1480.2,2272.2 1484.0,2276.2 1487.1,2279.9 1493.8,2288.3 1498.1,2294.3 1500.7,2298.0 1506.0,2306.1 1511.0,2314.3 1513.8,2318.8 1518.2,2326.5 1519.9,2329.4 1526.5,2341.2 1531.1,2349.8 1534.5,2356.4 1538.4,2363.9 1539.8,2366.9 1543.6,2374.7 1544.0,2375.4 1547.5,2383.0 1551.9,2392.7 1555.2,2400.2 1560.8,2413.4 1566.9,2428.6 1566.9,2428.7 1573.1,2445.1 1576.7,2455.1 1578.9,2461.4 1582.0,2470.4 1584.1,2476.8 1586.3,2483.6 1588.4,2490.3 1590.6,2497.1 1592.1,2502.0 1594.0,2508.3 1598.2,2522.1 1604.0,2542.8 1604.5,2544.7 1608.5,2559.5 1612.1,2573.5 1615.6,2587.4 1620.9,2609.4 1623.3,2619.6 1627.1,2636.1 1628.9,2643.9 1631.2,2654.4 1634.6,2670.3 1639.1,2691.5 1641.5,2703.5 1645.9,2725.7 1646.4,2727.9 1650.3,2748.3 1652.8,2761.2 1657.4,2786.5 1658.5,2792.4 1661.2,2807.2 1663.6,2821.2 1664.0,2823.5 1667.9,2846.0 1670.5,2861.2 1671.2,2865.2 1706.6,3097.7 1715.0,3158.3 1725.0,3233.9 1760.3,3517.0 1782.6,3706.2" fill="none" stroke="#008000" stroke-width="3.6" stroke-linejoin="round"/>
<polyline points="209.6,3718.9 214.2,3713.5 218.5,3708.5 250.3,3671.1 286.2,3629.0 482.9,3398.2 893.4,2918.6 1056.6,2733.4 1107.5,2677.7 1135.0,2648.4 1158.5,2623.9 1184.6,2597.4 1201.9,2580.3 1270.8,2522.8 1284.9,2513.8 1308.5,2500.9 1310.9,2499.7 1315.4,2497.6 1325.5,2493.3 1327.2,2492.6 1335.2,2489.5 1340.3,2487.7 1347.1,2485.5 1354.4,2483.4 1358.3,2482.3 1364.6,2480.8 1370.3,2479.5 1375.0,2478.6 1380.6,2477.6 1382.7,2477.3 1388.9,2476.4 1390.4,2476.3 1394.4,2476.2 1417.9,2479.9 1424.4,2482.1 1430.4,2484.5 1437.0,2487.4 1438.5,2488.1 1447.4,2493.0 1451.2,2495.4 1454.7,2497.8 1458.0,2500.3 1466.6,2507.6 1467.6,2508.5 1476.0,2516.7 1477.8,2518.6 1484.5,2526.1 1488.5,2530.8 1494.5,2538.4 1499.3,2545.2 1501.8,2548.9 1505.4,2554.5 1509.0,2560.4 1512.6,2566.4 1519.7,2579.1 1520.0,2579.5 1526.6,2592.3 1527.5,2594.0 1532.2,2604.0 1534.9,2609.9 1536.7,2613.9 1541.0,2623.7 1543.9,2630.6 1546.7,2637.4 1548.7,2642.3 1551.0,2648.2 1559.5,2671.0 1559.7,2671.7 1565.1,2687.3 1570.0,2702.0 1574.1,2714.8 1576.9,2724.1 1580.5,2736.1 1582.2,2741.6 1583.2,2745.2 1588.6,2764.2 1589.9,2769.1 1593.2,2781.2 1595.4,2789.5 1602.5,2818.0 1603.0,2819.8 1608.6,2844.1 1608.8,2844.7 1616.2,2878.6 1618.8,2890.8 1622.3,2907.7 1625.4,2923.3 1627.1,2932.2 1629.8,2945.1 1636.6,2975.0 1637.7,2979.4 1640.4,2991.1 1643.3,3003.2 1644.3,3007.1 1646.3,3015.9 1649.0,3027.5 1649.4,3029.7 1653.4,3047.2 1653.4,3047.4 1654.3,3051.2 1655.2,3055.2 1656.2,3059.7 1656.2,3059.8 1656.3,3060.0 1658.5,3069.8 1663.5,3092.4 1667.4,3110.8 1667.4,3111.0 1669.3,3120.2 1674.2,3146.0 1675.2,3151.7 1676.2,3157.4 1698.9,3313.9 1713.7,3411.8 1733.4,3547.2 1743.2,3626.5 1760.0,3761.6 1772.8,3819.4" fill="none" stroke="#008000" stroke-width="3.6" stroke-linejoin="round"/>
<polyline points="201.7,3728.9 203.8,3726.5 243.5,3680.6 288.6,3628.7 689.4,3178.5 931.1,2914.6 1102.6,2738.3 1124.0,2717.6 1151.6,2691.8 1179.2,2666.9 1197.4,2651.1 1275.7,2596.1 1296.9,2584.6 1310.9,2577.8 1313.8,2576.5 1317.1,2575.1 1327.2,2570.8 1332.4,2568.8 1340.9,2565.8 1348.8,2563.2 1353.1,2561.9 1359.0,2560.3 1365.1,2558.7 1375.0,2556.6 1379.7,2555.8 1384.4,2555.0 1408.7,2554.8 1413.9,2555.8 1417.5,2556.7 1421.9,2557.9 1432.2,2561.5 1435.4,2562.8 1443.8,2566.6 1448.7,2569.0 1453.6,2571.8 1459.2,2575.4 1462.7,2577.8 1470.7,2584.0 1475.5,2588.2 1478.3,2590.9 1482.5,2595.0 1488.7,2601.8 1489.6,2602.8 1494.6,2609.2 1501.7,2619.3 1502.2,2620.1 1507.8,2629.1 1511.3,2635.1 1517.3,2645.8 1519.6,2650.1 1523.1,2656.9 1527.6,2666.3 1535.6,2684.8 1538.6,2691.8 1541.0,2697.6 1544.6,2706.6 1549.2,2718.2 1552.6,2727.0 1558.5,2742.5 1560.7,2748.3 1564.1,2757.8 1567.2,2766.6 1572.2,2780.9 1572.4,2781.6 1575.3,2790.1 1579.8,2803.5 1579.8,2803.5 1585.3,2820.5 1589.5,2833.6 1590.0,2835.3 1592.8,2844.2 1598.5,2863.0 1602.4,2876.2 1604.9,2884.8 1609.4,2900.6 1611.7,2909.3 1619.5,2938.9 1620.3,2942.1 1621.3,2946.2 1622.1,2949.6 1622.4,2951.0 1625.3,2964.5 1626.7,2971.5 1630.1,2988.5 1631.2,2994.3 1633.4,3005.8 1639.4,3038.3 1640.8,3046.1 1642.1,3053.4 1642.7,3056.7 1643.6,3061.4 1644.5,3066.5 1644.7,3067.6 1645.3,3071.1 1649.4,3094.5 1652.0,3109.4 1689.0,3338.1 1708.7,3468.4 1723.5,3570.9 1738.3,3677.8 1757.0,3820.2" fill="none" stroke="#008000" stroke-width="3.6" stroke-linejoin="round"/>
<polyline points="240.1,3696.4 254.7,3681.8 297.8,3638.8 487.1,3450.2 845.8,3095.0 1007.3,2941.8 1201.8,2783.7 1231.5,2764.2 1254.8,2750.6 1276.8,2740.0 1290.9,2734.5 1306.4,2729.7 1314.4,2727.7 1323.3,2725.9 1327.7,2725.4 1335.1,2724.9 1344.2,2725.0 1352.7,2725.9 1356.5,2726.4 1363.3,2727.6 1373.4,2730.4 1375.5,2731.2 1381.0,2733.4 1387.3,2736.3 1397.6,2741.8 1403.4,2745.2 1407.7,2747.9 1412.3,2751.1 1414.2,2752.5 1420.7,2757.5 1426.8,2762.6 1431.9,2767.1 1435.5,2770.4 1441.7,2776.3 1444.6,2779.2 1449.9,2784.6 1453.9,2788.9 1458.3,2793.7 1462.3,2798.3 1471.1,2808.9 1475.0,2813.7 1476.3,2815.3 1482.8,2823.8 1485.5,2827.4 1490.1,2833.6 1497.3,2843.8 1501.5,2849.8 1505.2,2855.3 1508.6,2860.4 1512.2,2866.0 1515.7,2871.5 1521.1,2880.1 1527.0,2890.0 1528.4,2892.4 1533.6,2901.4 1539.8,2912.4 1544.1,2920.3 1548.2,2928.1 1550.5,2932.5 1554.7,2940.9 1557.8,2947.1 1561.4,2954.7 1562.7,2957.4 1568.4,2970.0 1570.2,2974.0 1573.9,2982.6 1577.2,2990.6 1579.5,2996.2 1582.5,3003.9 1583.7,3006.9 1586.0,3013.2 1589.2,3021.9 1593.3,3034.3 1601.1,3060.6 1604.5,3072.6 1607.1,3081.7 1611.2,3096.2 1615.9,3113.3 1616.9,3117.2 1618.2,3122.0 1623.2,3140.7 1626.1,3151.5 1633.6,3178.7 1637.8,3193.2 1637.8,3193.3 1640.1,3200.5 1643.5,3210.6 1646.9,3220.5 1648.9,3226.0 1654.0,3239.9 1657.3,3249.1 1658.7,3253.0 1663.4,3266.3 1665.6,3272.8 1667.6,3279.0 1674.5,3302.4 1675.6,3306.7 1680.4,3325.4 1681.6,3330.4 1687.4,3356.8 1689.7,3367.9 1689.8,3368.5 1690.6,3372.2 1690.9,3373.9 1691.4,3376.5 1695.9,3401.1 1707.8,3481.9 1721.6,3595.6 1737.3,3731.9 1743.2,3779.7" fill="none" stroke="#008000" stroke-width="3.6" stroke-linejoin="round"/>
<polyline points="246.3,3736.5 363.6,3684.9 736.1,3522.8 1228.6,3325.6 1278.4,3313.5 1315.6,3308.7 1341.9,3308.0 1372.5,3309.6 1385.7,3311.7 1404.7,3316.6 1420.8,3322.1 1436.8,3328.8 1462.3,3343.0 1469.5,3347.9 1474.3,3351.2 1479.6,3355.1 1483.5,3358.1 1490.0,3363.3 1498.1,3370.3 1501.9,3373.8 1506.7,3378.4 1515.0,3386.8 1518.2,3390.2 1526.0,3398.9 1533.3,3407.6 1538.1,3413.6 1544.9,3422.3 1550.2,3429.5 1551.1,3430.7 1560.4,3444.1 1563.5,3448.9 1566.7,3454.1 1571.5,3462.0 1572.0,3462.8 1575.9,3469.6 1579.5,3476.1 1583.3,3483.3 1590.1,3496.9 1594.6,3506.6 1600.2,3519.5 1601.5,3522.6 1606.4,3535.0 1612.6,3551.1 1614.3,3555.7 1622.2,3577.8 1624.9,3585.9 1629.2,3599.4 1632.2,3609.1 1632.2,3609.2 1635.6,3620.6 1639.8,3635.1 1643.2,3646.7 1646.6,3657.8 1652.7,3677.6 1653.8,3681.1 1660.3,3702.0 1666.6,3721.2 1671.8,3735.8 1679.7,3756.7 1684.3,3767.9 1689.2,3779.6 1691.1,3783.9" fill="none" stroke="#008000" stroke-width="3.6" stroke-linejoin="round"/>
<polyline points="1005.5,3601.6 1151.4,3573.4 1202.6,3565.0 1212.6,3563.6 1285.1,3555.1 1325.2,3553.0 1381.3,3554.9 1385.7,3555.3 1410.5,3558.6 1428.1,3562.8 1434.0,3564.6 1469.8,3578.5 1472.5,3579.7 1481.6,3584.0 1490.1,3588.3 1496.7,3591.9 1502.4,3595.3 1511.5,3601.2 1515.0,3603.6 1522.8,3609.2 1530.0,3614.8 1535.9,3619.5 1544.0,3626.4 1551.0,3632.6 1556.0,3637.0 1562.7,3643.3 1569.8,3650.3 1576.9,3657.9 1577.2,3658.3 1579.7,3661.1 1585.4,3667.7 1590.4,3673.7 1596.3,3681.1 1605.0,3692.0 1606.9,3694.4 1612.7,3701.9 1618.0,3708.6 1621.7,3713.2 1631.8,3727.0 1633.1,3729.1 1640.1,3739.9 1643.9,3745.8 1650.4,3755.4 1653.0,3759.1 1686.3,3781.3 1688.7,3781.9" fill="none" stroke="#008000" stroke-width="3.6" stroke-linejoin="round"/>
<polyline points="195.6,3767.0 1005.5,3616.9 1151.4,3589.4 1202.6,3583.5 1212.6,3582.6 1285.1,3578.7 1325.2,3578.1 1381.3,3582.8 1385.7,3583.7 1410.5,3589.7 1428.1,3594.7 1434.0,3596.5 1469.8,3610.0 1472.5,3611.2 1481.6,3615.5 1490.1,3619.8 1496.7,3623.3 1499.9,3625.0 1502.4,3626.4 1511.5,3631.6 1515.0,3633.7 1519.6,3636.5 1522.8,3638.5 1530.0,3643.2 1535.9,3647.2 1541.3,3651.0 1544.0,3653.0 1551.0,3658.4 1556.0,3662.2 1562.7,3667.7 1569.8,3673.7 1576.9,3679.9 1577.2,3680.2 1579.7,3682.4 1585.4,3687.6 1590.4,3692.3 1596.3,3698.0 1605.0,3706.7 1606.9,3708.7 1608.6,3710.5 1612.7,3715.0 1618.0,3720.8 1621.7,3725.0 1631.8,3736.8 1633.1,3738.5 1640.1,3747.0 1643.9,3751.8 1650.4,3760.0 1653.0,3763.4 1654.6,3765.4" fill="none" stroke="#008000" stroke-width="3.6" stroke-linejoin="round"/>
<text transform="translate(1187.49,2431.70) scale(0.6348,1)" font-family='"Liberation Sans", sans-serif' font-weight="normal" font-size="59.60" fill="#111">840 W/m</text>
<text transform="translate(1336.74,2404.70) scale(0.7279,1)" font-family='"Liberation Sans", sans-serif' font-weight="normal" font-size="44.70" fill="#111">2</text>
<text transform="translate(1354.15,2431.70) scale(0.6348,1)" font-family='"Liberation Sans", sans-serif' font-weight="normal" font-size="59.60" fill="#111">, 331.42 K</text>
<text transform="translate(600.80,2656.00) scale(0.6361,1)" font-family='"Liberation Sans", sans-serif' font-weight="normal" font-size="59.60" fill="#111">978 W/m</text>
<text transform="translate(750.35,2629.00) scale(0.7294,1)" font-family='"Liberation Sans", sans-serif' font-weight="normal" font-size="44.70" fill="#111">2</text>
<text transform="translate(767.80,2656.00) scale(0.6361,1)" font-family='"Liberation Sans", sans-serif' font-weight="normal" font-size="59.60" fill="#111">, 328.56 K</text>
<text transform="translate(1197.81,2710.00) scale(0.6352,1)" font-family='"Liberation Sans", sans-serif' font-weight="normal" font-size="59.60" fill="#111">780 W/m</text>
<text transform="translate(1347.14,2683.00) scale(0.7283,1)" font-family='"Liberation Sans", sans-serif' font-weight="normal" font-size="44.70" fill="#111">2</text>
<text transform="translate(1364.56,2710.00) scale(0.6352,1)" font-family='"Liberation Sans", sans-serif' font-weight="normal" font-size="59.60" fill="#111">, 329.1 K</text>
<text transform="translate(1159.59,2933.40) scale(0.6405,1)" font-family='"Liberation Sans", sans-serif' font-weight="normal" font-size="59.60" fill="#111">711 W/m</text>
<text transform="translate(1307.41,2906.40) scale(0.7345,1)" font-family='"Liberation Sans", sans-serif' font-weight="normal" font-size="44.70" fill="#111">2</text>
<text transform="translate(1324.99,2933.40) scale(0.6405,1)" font-family='"Liberation Sans", sans-serif' font-weight="normal" font-size="59.60" fill="#111">, 324.21 K</text>
<text transform="translate(749.27,3379.60) scale(0.6408,1)" font-family='"Liberation Sans", sans-serif' font-weight="normal" font-size="59.60" fill="#111">306 W/m</text>
<text transform="translate(899.92,3352.60) scale(0.7348,1)" font-family='"Liberation Sans", sans-serif' font-weight="normal" font-size="44.70" fill="#111">2</text>
<text transform="translate(917.51,3379.60) scale(0.6408,1)" font-family='"Liberation Sans", sans-serif' font-weight="normal" font-size="59.60" fill="#111">, 327.7 K</text>
<text transform="translate(1124.89,3506.70) scale(0.6294,1)" font-family='"Liberation Sans", sans-serif' font-weight="normal" font-size="59.60" fill="#111">148 W/m</text>
<text transform="translate(1272.88,3479.70) scale(0.7217,1)" font-family='"Liberation Sans", sans-serif' font-weight="normal" font-size="44.70" fill="#111">2</text>
<text transform="translate(1290.12,3506.70) scale(0.6294,1)" font-family='"Liberation Sans", sans-serif' font-weight="normal" font-size="59.60" fill="#111">, 321.25 K</text>
<text transform="translate(638.57,3776.50) scale(0.6323,1)" font-family='"Liberation Sans", sans-serif' font-weight="normal" font-size="59.60" fill="#111">118.28 W/m</text>
<text transform="translate(836.89,3749.50) scale(0.7250,1)" font-family='"Liberation Sans", sans-serif' font-weight="normal" font-size="44.70" fill="#111">2</text>
<text transform="translate(854.23,3776.50) scale(0.6323,1)" font-family='"Liberation Sans", sans-serif' font-weight="normal" font-size="59.60" fill="#111">, 318.32 K</text>
<rect x="169.5" y="2197" width="311.5" height="271" fill="#fff" stroke="#222" stroke-width="3.5"/>
<g transform="scale(1,1.62)"><circle cx="211.1" cy="1395.6" r="10" fill="#ff0000" stroke="#0000ff" stroke-width="4"/></g>
<line x1="176.5" y1="2385.4" x2="245.7" y2="2385.4" stroke="#008000" stroke-width="5.5"/>
<text transform="translate(255.25,2273.50) scale(0.6346,1)" font-family='"Liberation Serif", serif' font-weight="bold" font-size="58.63" fill="#111">Experimental</text>
<text transform="translate(258.55,2398.00) scale(0.6090,1)" font-family='"Liberation Serif", serif' font-weight="bold" font-size="60.61" fill="#111">Proposed</text>
<text transform="translate(809.09,4127.00) scale(0.6566,1)" font-family='"Liberation Serif", serif' font-weight="bold" font-size="62.90" fill="#222">Voltage of PV module (V)</text>
<text transform="translate(75.1,3413.6) rotate(-90) scale(1.5292,1)" font-family='"Liberation Serif", serif' font-weight="bold" font-size="41.07" fill="#111">Power of PV module (W)</text>
<text transform="translate(939.47,4237.90) scale(1.0908,1)" font-family='"Liberation Serif", serif' font-weight="bold" font-size="80.43" fill="#000"><tspan font-weight="normal">(</tspan>b<tspan font-weight="normal">)</tspan></text>
</svg>
</body></html>
